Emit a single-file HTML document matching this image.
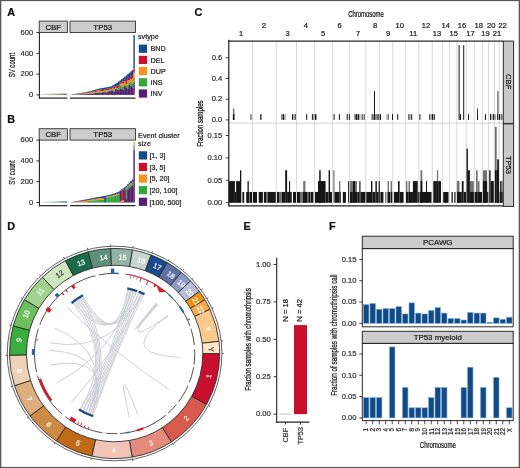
<!DOCTYPE html>
<html><head><meta charset="utf-8"><style>
html,body{margin:0;padding:0;background:#fff;}
svg{display:block;will-change:transform;filter:blur(0.3px);}
text{font-family:"Liberation Sans", sans-serif;stroke:currentColor;stroke-width:0.22px;}
</style></head><body>
<svg width="520" height="468" viewBox="0 0 520 468">
<rect x="0" y="0" width="520" height="468" fill="#fff"/>
<text x="7.20" y="15.60" font-size="10.8" text-anchor="start" fill="#111" color="#111" font-weight="bold">A</text>
<text x="7.30" y="122.60" font-size="10.8" text-anchor="start" fill="#111" color="#111" font-weight="bold">B</text>
<text x="194.50" y="15.70" font-size="10.8" text-anchor="start" fill="#111" color="#111" font-weight="bold">C</text>
<text x="7.30" y="230.30" font-size="10.8" text-anchor="start" fill="#111" color="#111" font-weight="bold">D</text>
<text x="243.40" y="230.30" font-size="10.8" text-anchor="start" fill="#111" color="#111" font-weight="bold">E</text>
<text x="328.90" y="230.30" font-size="10.8" text-anchor="start" fill="#111" color="#111" font-weight="bold">F</text>
<rect x="39.20" y="21.10" width="28.20" height="11.40" fill="#cccccc" stroke="#333" stroke-width="0.9"/>
<rect x="70.00" y="21.10" width="65.50" height="11.40" fill="#cccccc" stroke="#333" stroke-width="0.9"/>
<text x="53.30" y="29.60" font-size="7.9" text-anchor="middle" fill="#1a1a1a" color="#1a1a1a" font-weight="normal">CBF</text>
<text x="102.75" y="29.60" font-size="7.9" text-anchor="middle" fill="#1a1a1a" color="#1a1a1a" font-weight="normal">TP53</text>
<line x1="39.40" y1="32.50" x2="39.40" y2="98.60" stroke="#222" stroke-width="1.1"/>
<line x1="36.30" y1="94.90" x2="39.40" y2="94.90" stroke="#222" stroke-width="0.9"/>
<text x="33.20" y="97.10" font-size="7.6" text-anchor="end" fill="#333" color="#333" font-weight="normal">0</text>
<line x1="36.30" y1="74.10" x2="39.40" y2="74.10" stroke="#222" stroke-width="0.9"/>
<text x="33.20" y="76.30" font-size="7.6" text-anchor="end" fill="#333" color="#333" font-weight="normal">200</text>
<line x1="36.30" y1="53.30" x2="39.40" y2="53.30" stroke="#222" stroke-width="0.9"/>
<text x="33.20" y="55.50" font-size="7.6" text-anchor="end" fill="#333" color="#333" font-weight="normal">400</text>
<line x1="36.30" y1="32.50" x2="39.40" y2="32.50" stroke="#222" stroke-width="0.9"/>
<text x="33.20" y="34.70" font-size="7.6" text-anchor="end" fill="#333" color="#333" font-weight="normal">600</text>
<line x1="38.90" y1="98.10" x2="67.40" y2="98.10" stroke="#222" stroke-width="1.2"/>
<line x1="70.00" y1="98.10" x2="135.50" y2="98.10" stroke="#222" stroke-width="1.2"/>
<text x="14.60" y="65.10" font-size="8.9" text-anchor="middle" fill="#111" color="#111" font-weight="normal" transform="rotate(-90 14.60 65.10)" textLength="24.50" lengthAdjust="spacingAndGlyphs">SV count</text>
<defs><linearGradient id="cbfgA" x1="0" x2="1" y1="0" y2="0"><stop offset="0" stop-color="#e6e6e6"/><stop offset="0.5" stop-color="#b8b8a8"/><stop offset="1" stop-color="#6f7a62"/></linearGradient></defs>
<rect x="40.50" y="93.60" width="26.40" height="1.50" fill="url(#cbfgA)"/>
<rect x="70.60" y="94.80" width="1.78" height="0.10" fill="#532074"/>
<rect x="70.60" y="94.77" width="1.78" height="0.03" fill="#32a83a"/>
<rect x="70.60" y="94.68" width="1.78" height="0.09" fill="#f7931c"/>
<rect x="70.60" y="94.66" width="1.78" height="0.02" fill="#cb0f2e"/>
<rect x="70.60" y="94.56" width="1.78" height="0.10" fill="#134a89"/>
<rect x="72.13" y="94.69" width="1.78" height="0.21" fill="#532074"/>
<rect x="72.13" y="94.65" width="1.78" height="0.04" fill="#32a83a"/>
<rect x="72.13" y="94.51" width="1.78" height="0.14" fill="#f7931c"/>
<rect x="72.13" y="94.48" width="1.78" height="0.03" fill="#cb0f2e"/>
<rect x="72.13" y="94.29" width="1.78" height="0.19" fill="#134a89"/>
<rect x="73.66" y="94.67" width="1.78" height="0.23" fill="#532074"/>
<rect x="73.66" y="94.61" width="1.78" height="0.06" fill="#32a83a"/>
<rect x="73.66" y="94.45" width="1.78" height="0.16" fill="#f7931c"/>
<rect x="73.66" y="94.20" width="1.78" height="0.25" fill="#cb0f2e"/>
<rect x="73.66" y="94.02" width="1.78" height="0.18" fill="#134a89"/>
<rect x="75.19" y="94.65" width="1.78" height="0.25" fill="#532074"/>
<rect x="75.19" y="94.44" width="1.78" height="0.21" fill="#32a83a"/>
<rect x="75.19" y="94.14" width="1.78" height="0.31" fill="#f7931c"/>
<rect x="75.19" y="93.97" width="1.78" height="0.17" fill="#cb0f2e"/>
<rect x="75.19" y="93.74" width="1.78" height="0.22" fill="#134a89"/>
<rect x="76.72" y="94.36" width="1.78" height="0.54" fill="#532074"/>
<rect x="76.72" y="94.30" width="1.78" height="0.06" fill="#32a83a"/>
<rect x="76.72" y="93.88" width="1.78" height="0.42" fill="#f7931c"/>
<rect x="76.72" y="93.73" width="1.78" height="0.15" fill="#cb0f2e"/>
<rect x="76.72" y="93.47" width="1.78" height="0.26" fill="#134a89"/>
<rect x="78.25" y="94.47" width="1.78" height="0.43" fill="#532074"/>
<rect x="78.25" y="94.26" width="1.78" height="0.21" fill="#32a83a"/>
<rect x="78.25" y="93.79" width="1.78" height="0.47" fill="#f7931c"/>
<rect x="78.25" y="93.66" width="1.78" height="0.13" fill="#cb0f2e"/>
<rect x="78.25" y="93.20" width="1.78" height="0.46" fill="#134a89"/>
<rect x="79.78" y="94.17" width="1.78" height="0.73" fill="#532074"/>
<rect x="79.78" y="93.85" width="1.78" height="0.31" fill="#32a83a"/>
<rect x="79.78" y="93.42" width="1.78" height="0.43" fill="#f7931c"/>
<rect x="79.78" y="93.32" width="1.78" height="0.10" fill="#cb0f2e"/>
<rect x="79.78" y="92.97" width="1.78" height="0.36" fill="#134a89"/>
<rect x="81.30" y="94.33" width="1.78" height="0.57" fill="#532074"/>
<rect x="81.30" y="93.84" width="1.78" height="0.49" fill="#32a83a"/>
<rect x="81.30" y="93.51" width="1.78" height="0.33" fill="#f7931c"/>
<rect x="81.30" y="93.29" width="1.78" height="0.23" fill="#cb0f2e"/>
<rect x="81.30" y="92.73" width="1.78" height="0.55" fill="#134a89"/>
<rect x="82.83" y="94.21" width="1.78" height="0.69" fill="#532074"/>
<rect x="82.83" y="93.95" width="1.78" height="0.26" fill="#32a83a"/>
<rect x="82.83" y="93.37" width="1.78" height="0.58" fill="#f7931c"/>
<rect x="82.83" y="92.93" width="1.78" height="0.44" fill="#cb0f2e"/>
<rect x="82.83" y="92.50" width="1.78" height="0.43" fill="#134a89"/>
<rect x="84.36" y="94.18" width="1.78" height="0.72" fill="#532074"/>
<rect x="84.36" y="93.78" width="1.78" height="0.40" fill="#32a83a"/>
<rect x="84.36" y="93.16" width="1.78" height="0.62" fill="#f7931c"/>
<rect x="84.36" y="92.71" width="1.78" height="0.45" fill="#cb0f2e"/>
<rect x="84.36" y="92.27" width="1.78" height="0.44" fill="#134a89"/>
<rect x="85.89" y="93.72" width="1.78" height="1.18" fill="#532074"/>
<rect x="85.89" y="93.54" width="1.78" height="0.19" fill="#32a83a"/>
<rect x="85.89" y="93.09" width="1.78" height="0.45" fill="#f7931c"/>
<rect x="85.89" y="92.46" width="1.78" height="0.63" fill="#cb0f2e"/>
<rect x="85.89" y="91.94" width="1.78" height="0.52" fill="#134a89"/>
<rect x="87.42" y="93.86" width="1.78" height="1.04" fill="#532074"/>
<rect x="87.42" y="93.74" width="1.78" height="0.13" fill="#32a83a"/>
<rect x="87.42" y="93.04" width="1.78" height="0.70" fill="#f7931c"/>
<rect x="87.42" y="92.37" width="1.78" height="0.67" fill="#cb0f2e"/>
<rect x="87.42" y="91.56" width="1.78" height="0.80" fill="#134a89"/>
<rect x="88.95" y="93.66" width="1.78" height="1.24" fill="#532074"/>
<rect x="88.95" y="93.28" width="1.78" height="0.38" fill="#32a83a"/>
<rect x="88.95" y="92.55" width="1.78" height="0.73" fill="#f7931c"/>
<rect x="88.95" y="92.00" width="1.78" height="0.55" fill="#cb0f2e"/>
<rect x="88.95" y="91.19" width="1.78" height="0.81" fill="#134a89"/>
<rect x="90.48" y="93.86" width="1.78" height="1.04" fill="#532074"/>
<rect x="90.48" y="93.02" width="1.78" height="0.84" fill="#32a83a"/>
<rect x="90.48" y="92.09" width="1.78" height="0.93" fill="#f7931c"/>
<rect x="90.48" y="91.65" width="1.78" height="0.44" fill="#cb0f2e"/>
<rect x="90.48" y="90.81" width="1.78" height="0.84" fill="#134a89"/>
<rect x="92.01" y="93.92" width="1.78" height="0.98" fill="#532074"/>
<rect x="92.01" y="93.12" width="1.78" height="0.80" fill="#32a83a"/>
<rect x="92.01" y="92.37" width="1.78" height="0.74" fill="#f7931c"/>
<rect x="92.01" y="91.45" width="1.78" height="0.92" fill="#cb0f2e"/>
<rect x="92.01" y="90.41" width="1.78" height="1.04" fill="#134a89"/>
<rect x="93.54" y="93.22" width="1.78" height="1.68" fill="#532074"/>
<rect x="93.54" y="92.50" width="1.78" height="0.73" fill="#32a83a"/>
<rect x="93.54" y="91.35" width="1.78" height="1.15" fill="#f7931c"/>
<rect x="93.54" y="91.17" width="1.78" height="0.18" fill="#cb0f2e"/>
<rect x="93.54" y="89.97" width="1.78" height="1.21" fill="#134a89"/>
<rect x="95.07" y="92.81" width="1.78" height="2.09" fill="#532074"/>
<rect x="95.07" y="92.39" width="1.78" height="0.42" fill="#32a83a"/>
<rect x="95.07" y="92.08" width="1.78" height="0.31" fill="#f7931c"/>
<rect x="95.07" y="90.66" width="1.78" height="1.43" fill="#cb0f2e"/>
<rect x="95.07" y="89.53" width="1.78" height="1.13" fill="#134a89"/>
<rect x="96.60" y="93.04" width="1.78" height="1.86" fill="#532074"/>
<rect x="96.60" y="92.24" width="1.78" height="0.80" fill="#32a83a"/>
<rect x="96.60" y="90.66" width="1.78" height="1.58" fill="#f7931c"/>
<rect x="96.60" y="90.39" width="1.78" height="0.27" fill="#cb0f2e"/>
<rect x="96.60" y="89.09" width="1.78" height="1.30" fill="#134a89"/>
<rect x="98.13" y="93.16" width="1.78" height="1.74" fill="#532074"/>
<rect x="98.13" y="91.87" width="1.78" height="1.30" fill="#32a83a"/>
<rect x="98.13" y="90.65" width="1.78" height="1.21" fill="#f7931c"/>
<rect x="98.13" y="89.57" width="1.78" height="1.08" fill="#cb0f2e"/>
<rect x="98.13" y="88.67" width="1.78" height="0.90" fill="#134a89"/>
<rect x="99.66" y="92.94" width="1.78" height="1.96" fill="#532074"/>
<rect x="99.66" y="92.23" width="1.78" height="0.71" fill="#32a83a"/>
<rect x="99.66" y="90.71" width="1.78" height="1.52" fill="#f7931c"/>
<rect x="99.66" y="89.33" width="1.78" height="1.39" fill="#cb0f2e"/>
<rect x="99.66" y="88.40" width="1.78" height="0.93" fill="#134a89"/>
<rect x="101.19" y="92.45" width="1.78" height="2.45" fill="#532074"/>
<rect x="101.19" y="91.75" width="1.78" height="0.69" fill="#32a83a"/>
<rect x="101.19" y="91.06" width="1.78" height="0.70" fill="#f7931c"/>
<rect x="101.19" y="90.00" width="1.78" height="1.06" fill="#cb0f2e"/>
<rect x="101.19" y="88.13" width="1.78" height="1.87" fill="#134a89"/>
<rect x="102.71" y="92.14" width="1.78" height="2.76" fill="#532074"/>
<rect x="102.71" y="91.90" width="1.78" height="0.23" fill="#32a83a"/>
<rect x="102.71" y="90.74" width="1.78" height="1.16" fill="#f7931c"/>
<rect x="102.71" y="89.83" width="1.78" height="0.91" fill="#cb0f2e"/>
<rect x="102.71" y="87.87" width="1.78" height="1.96" fill="#134a89"/>
<rect x="104.24" y="92.34" width="1.78" height="2.56" fill="#532074"/>
<rect x="104.24" y="91.08" width="1.78" height="1.26" fill="#32a83a"/>
<rect x="104.24" y="90.10" width="1.78" height="0.98" fill="#f7931c"/>
<rect x="104.24" y="89.12" width="1.78" height="0.98" fill="#cb0f2e"/>
<rect x="104.24" y="87.60" width="1.78" height="1.52" fill="#134a89"/>
<rect x="105.77" y="93.09" width="1.78" height="1.81" fill="#532074"/>
<rect x="105.77" y="91.54" width="1.78" height="1.55" fill="#32a83a"/>
<rect x="105.77" y="90.18" width="1.78" height="1.36" fill="#f7931c"/>
<rect x="105.77" y="88.90" width="1.78" height="1.28" fill="#cb0f2e"/>
<rect x="105.77" y="87.30" width="1.78" height="1.60" fill="#134a89"/>
<rect x="107.30" y="91.57" width="1.78" height="3.33" fill="#532074"/>
<rect x="107.30" y="90.36" width="1.78" height="1.22" fill="#32a83a"/>
<rect x="107.30" y="89.86" width="1.78" height="0.50" fill="#f7931c"/>
<rect x="107.30" y="88.33" width="1.78" height="1.53" fill="#cb0f2e"/>
<rect x="107.30" y="87.01" width="1.78" height="1.32" fill="#134a89"/>
<rect x="108.83" y="91.21" width="1.78" height="3.69" fill="#532074"/>
<rect x="108.83" y="90.28" width="1.78" height="0.93" fill="#32a83a"/>
<rect x="108.83" y="89.49" width="1.78" height="0.79" fill="#f7931c"/>
<rect x="108.83" y="88.33" width="1.78" height="1.16" fill="#cb0f2e"/>
<rect x="108.83" y="86.71" width="1.78" height="1.62" fill="#134a89"/>
<rect x="110.36" y="90.93" width="1.78" height="3.97" fill="#532074"/>
<rect x="110.36" y="90.10" width="1.78" height="0.83" fill="#32a83a"/>
<rect x="110.36" y="89.44" width="1.78" height="0.66" fill="#f7931c"/>
<rect x="110.36" y="88.11" width="1.78" height="1.32" fill="#cb0f2e"/>
<rect x="110.36" y="86.41" width="1.78" height="1.70" fill="#134a89"/>
<rect x="111.89" y="90.63" width="1.78" height="4.27" fill="#532074"/>
<rect x="111.89" y="88.80" width="1.78" height="1.83" fill="#32a83a"/>
<rect x="111.89" y="88.16" width="1.78" height="0.64" fill="#f7931c"/>
<rect x="111.89" y="87.37" width="1.78" height="0.80" fill="#cb0f2e"/>
<rect x="111.89" y="85.49" width="1.78" height="1.88" fill="#134a89"/>
<rect x="113.42" y="91.48" width="1.78" height="3.42" fill="#532074"/>
<rect x="113.42" y="90.95" width="1.78" height="0.53" fill="#32a83a"/>
<rect x="113.42" y="88.68" width="1.78" height="2.27" fill="#f7931c"/>
<rect x="113.42" y="86.47" width="1.78" height="2.21" fill="#cb0f2e"/>
<rect x="113.42" y="84.53" width="1.78" height="1.94" fill="#134a89"/>
<rect x="114.95" y="89.12" width="1.78" height="5.78" fill="#532074"/>
<rect x="114.95" y="88.41" width="1.78" height="0.71" fill="#32a83a"/>
<rect x="114.95" y="87.64" width="1.78" height="0.77" fill="#f7931c"/>
<rect x="114.95" y="86.16" width="1.78" height="1.47" fill="#cb0f2e"/>
<rect x="114.95" y="83.58" width="1.78" height="2.58" fill="#134a89"/>
<rect x="116.48" y="89.44" width="1.78" height="5.46" fill="#532074"/>
<rect x="116.48" y="88.60" width="1.78" height="0.84" fill="#32a83a"/>
<rect x="116.48" y="88.21" width="1.78" height="0.39" fill="#f7931c"/>
<rect x="116.48" y="85.35" width="1.78" height="2.86" fill="#cb0f2e"/>
<rect x="116.48" y="82.62" width="1.78" height="2.73" fill="#134a89"/>
<rect x="118.01" y="90.08" width="1.78" height="4.82" fill="#532074"/>
<rect x="118.01" y="87.84" width="1.78" height="2.24" fill="#32a83a"/>
<rect x="118.01" y="87.40" width="1.78" height="0.44" fill="#f7931c"/>
<rect x="118.01" y="85.52" width="1.78" height="1.88" fill="#cb0f2e"/>
<rect x="118.01" y="81.52" width="1.78" height="4.01" fill="#134a89"/>
<rect x="119.54" y="88.39" width="1.78" height="6.51" fill="#532074"/>
<rect x="119.54" y="85.45" width="1.78" height="2.94" fill="#32a83a"/>
<rect x="119.54" y="84.11" width="1.78" height="1.33" fill="#f7931c"/>
<rect x="119.54" y="82.62" width="1.78" height="1.50" fill="#cb0f2e"/>
<rect x="119.54" y="80.36" width="1.78" height="2.26" fill="#134a89"/>
<rect x="121.07" y="88.51" width="1.78" height="6.39" fill="#532074"/>
<rect x="121.07" y="86.19" width="1.78" height="2.32" fill="#32a83a"/>
<rect x="121.07" y="82.96" width="1.78" height="3.23" fill="#f7931c"/>
<rect x="121.07" y="81.59" width="1.78" height="1.38" fill="#cb0f2e"/>
<rect x="121.07" y="79.21" width="1.78" height="2.38" fill="#134a89"/>
<rect x="122.60" y="89.55" width="1.78" height="5.35" fill="#532074"/>
<rect x="122.60" y="86.30" width="1.78" height="3.26" fill="#32a83a"/>
<rect x="122.60" y="83.44" width="1.78" height="2.86" fill="#f7931c"/>
<rect x="122.60" y="81.12" width="1.78" height="2.32" fill="#cb0f2e"/>
<rect x="122.60" y="77.98" width="1.78" height="3.14" fill="#134a89"/>
<rect x="124.12" y="86.04" width="1.78" height="8.86" fill="#532074"/>
<rect x="124.12" y="84.40" width="1.78" height="1.64" fill="#32a83a"/>
<rect x="124.12" y="81.30" width="1.78" height="3.10" fill="#f7931c"/>
<rect x="124.12" y="79.31" width="1.78" height="1.99" fill="#cb0f2e"/>
<rect x="124.12" y="76.71" width="1.78" height="2.61" fill="#134a89"/>
<rect x="125.65" y="87.91" width="1.78" height="6.99" fill="#532074"/>
<rect x="125.65" y="86.06" width="1.78" height="1.85" fill="#32a83a"/>
<rect x="125.65" y="84.30" width="1.78" height="1.75" fill="#f7931c"/>
<rect x="125.65" y="80.99" width="1.78" height="3.31" fill="#cb0f2e"/>
<rect x="125.65" y="75.43" width="1.78" height="5.56" fill="#134a89"/>
<rect x="127.18" y="88.54" width="1.78" height="6.36" fill="#532074"/>
<rect x="127.18" y="84.57" width="1.78" height="3.97" fill="#32a83a"/>
<rect x="127.18" y="80.41" width="1.78" height="4.16" fill="#f7931c"/>
<rect x="127.18" y="76.98" width="1.78" height="3.43" fill="#cb0f2e"/>
<rect x="127.18" y="74.13" width="1.78" height="2.84" fill="#134a89"/>
<rect x="128.71" y="84.64" width="1.78" height="10.26" fill="#532074"/>
<rect x="128.71" y="82.50" width="1.78" height="2.14" fill="#32a83a"/>
<rect x="128.71" y="80.56" width="1.78" height="1.94" fill="#f7931c"/>
<rect x="128.71" y="78.79" width="1.78" height="1.77" fill="#cb0f2e"/>
<rect x="128.71" y="72.80" width="1.78" height="5.99" fill="#134a89"/>
<rect x="130.24" y="86.07" width="1.78" height="8.83" fill="#532074"/>
<rect x="130.24" y="81.77" width="1.78" height="4.30" fill="#32a83a"/>
<rect x="130.24" y="79.12" width="1.78" height="2.65" fill="#f7931c"/>
<rect x="130.24" y="76.17" width="1.78" height="2.95" fill="#cb0f2e"/>
<rect x="130.24" y="71.45" width="1.78" height="4.73" fill="#134a89"/>
<rect x="131.77" y="87.34" width="1.78" height="7.56" fill="#532074"/>
<rect x="131.77" y="83.62" width="1.78" height="3.73" fill="#32a83a"/>
<rect x="131.77" y="78.67" width="1.78" height="4.95" fill="#f7931c"/>
<rect x="131.77" y="74.98" width="1.78" height="3.68" fill="#cb0f2e"/>
<rect x="131.77" y="70.08" width="1.78" height="4.90" fill="#134a89"/>
<rect x="133.40" y="82.42" width="1.40" height="12.48" fill="#532074"/>
<rect x="133.40" y="78.26" width="1.40" height="4.16" fill="#32a83a"/>
<rect x="133.40" y="72.54" width="1.40" height="5.72" fill="#f7931c"/>
<rect x="133.40" y="68.38" width="1.40" height="4.16" fill="#cb0f2e"/>
<rect x="133.40" y="35.10" width="1.40" height="33.28" fill="#1a4680"/>
<rect x="138.80" y="44.60" width="8.30" height="8.20" fill="#134a89"/>
<text x="150.50" y="51.40" font-size="7.2" text-anchor="start" fill="#222" color="#222" font-weight="normal">BND</text>
<rect x="138.80" y="55.80" width="8.30" height="8.20" fill="#cb0f2e"/>
<text x="150.50" y="62.60" font-size="7.2" text-anchor="start" fill="#222" color="#222" font-weight="normal">DEL</text>
<rect x="138.80" y="67.00" width="8.30" height="8.20" fill="#f7931c"/>
<text x="150.50" y="73.80" font-size="7.2" text-anchor="start" fill="#222" color="#222" font-weight="normal">DUP</text>
<rect x="138.80" y="78.20" width="8.30" height="8.20" fill="#32a83a"/>
<text x="150.50" y="85.00" font-size="7.2" text-anchor="start" fill="#222" color="#222" font-weight="normal">INS</text>
<rect x="138.80" y="89.40" width="8.30" height="8.20" fill="#532074"/>
<text x="150.50" y="96.20" font-size="7.2" text-anchor="start" fill="#222" color="#222" font-weight="normal">INV</text>
<text x="138.00" y="38.90" font-size="7.2" text-anchor="start" fill="#222" color="#222" font-weight="normal">svtype</text>
<rect x="39.20" y="128.70" width="28.20" height="11.40" fill="#cccccc" stroke="#333" stroke-width="0.9"/>
<rect x="70.00" y="128.70" width="65.50" height="11.40" fill="#cccccc" stroke="#333" stroke-width="0.9"/>
<text x="53.30" y="137.20" font-size="7.9" text-anchor="middle" fill="#1a1a1a" color="#1a1a1a" font-weight="normal">CBF</text>
<text x="102.75" y="137.20" font-size="7.9" text-anchor="middle" fill="#1a1a1a" color="#1a1a1a" font-weight="normal">TP53</text>
<line x1="39.40" y1="140.10" x2="39.40" y2="206.20" stroke="#222" stroke-width="1.1"/>
<line x1="36.30" y1="202.50" x2="39.40" y2="202.50" stroke="#222" stroke-width="0.9"/>
<text x="33.20" y="204.70" font-size="7.6" text-anchor="end" fill="#333" color="#333" font-weight="normal">0</text>
<line x1="36.30" y1="181.70" x2="39.40" y2="181.70" stroke="#222" stroke-width="0.9"/>
<text x="33.20" y="183.90" font-size="7.6" text-anchor="end" fill="#333" color="#333" font-weight="normal">200</text>
<line x1="36.30" y1="160.90" x2="39.40" y2="160.90" stroke="#222" stroke-width="0.9"/>
<text x="33.20" y="163.10" font-size="7.6" text-anchor="end" fill="#333" color="#333" font-weight="normal">400</text>
<line x1="36.30" y1="140.10" x2="39.40" y2="140.10" stroke="#222" stroke-width="0.9"/>
<text x="33.20" y="142.30" font-size="7.6" text-anchor="end" fill="#333" color="#333" font-weight="normal">600</text>
<line x1="38.90" y1="205.70" x2="67.40" y2="205.70" stroke="#222" stroke-width="1.2"/>
<line x1="70.00" y1="205.70" x2="135.50" y2="205.70" stroke="#222" stroke-width="1.2"/>
<text x="14.60" y="172.60" font-size="8.9" text-anchor="middle" fill="#111" color="#111" font-weight="normal" transform="rotate(-90 14.60 172.60)" textLength="24.50" lengthAdjust="spacingAndGlyphs">SV count</text>
<defs><linearGradient id="cbfgB" x1="0" x2="1" y1="0" y2="0"><stop offset="0" stop-color="#d8e0ea"/><stop offset="0.6" stop-color="#a4b8d2"/><stop offset="1" stop-color="#6a8cb8"/></linearGradient></defs>
<path d="M40.5,202.70 L40.5,201.90 L66.9,201.10 L66.9,202.70 Z" fill="url(#cbfgB)"/>
<rect x="70.60" y="202.48" width="1.78" height="0.02" fill="#532074"/>
<rect x="70.60" y="202.45" width="1.78" height="0.03" fill="#32a83a"/>
<rect x="70.60" y="202.28" width="1.78" height="0.16" fill="#f7931c"/>
<rect x="70.60" y="202.20" width="1.78" height="0.09" fill="#cb0f2e"/>
<rect x="70.60" y="202.06" width="1.78" height="0.13" fill="#134a89"/>
<rect x="72.13" y="202.47" width="1.78" height="0.03" fill="#532074"/>
<rect x="72.13" y="202.42" width="1.78" height="0.05" fill="#32a83a"/>
<rect x="72.13" y="202.13" width="1.78" height="0.29" fill="#f7931c"/>
<rect x="72.13" y="202.00" width="1.78" height="0.13" fill="#cb0f2e"/>
<rect x="72.13" y="201.79" width="1.78" height="0.21" fill="#134a89"/>
<rect x="73.66" y="202.45" width="1.78" height="0.05" fill="#532074"/>
<rect x="73.66" y="202.38" width="1.78" height="0.07" fill="#32a83a"/>
<rect x="73.66" y="202.01" width="1.78" height="0.37" fill="#f7931c"/>
<rect x="73.66" y="201.81" width="1.78" height="0.19" fill="#cb0f2e"/>
<rect x="73.66" y="201.52" width="1.78" height="0.30" fill="#134a89"/>
<rect x="75.19" y="202.44" width="1.78" height="0.06" fill="#532074"/>
<rect x="75.19" y="202.34" width="1.78" height="0.10" fill="#32a83a"/>
<rect x="75.19" y="201.89" width="1.78" height="0.45" fill="#f7931c"/>
<rect x="75.19" y="201.64" width="1.78" height="0.25" fill="#cb0f2e"/>
<rect x="75.19" y="201.24" width="1.78" height="0.39" fill="#134a89"/>
<rect x="76.72" y="202.43" width="1.78" height="0.07" fill="#532074"/>
<rect x="76.72" y="202.32" width="1.78" height="0.11" fill="#32a83a"/>
<rect x="76.72" y="201.74" width="1.78" height="0.58" fill="#f7931c"/>
<rect x="76.72" y="201.42" width="1.78" height="0.32" fill="#cb0f2e"/>
<rect x="76.72" y="200.97" width="1.78" height="0.45" fill="#134a89"/>
<rect x="78.25" y="202.41" width="1.78" height="0.09" fill="#532074"/>
<rect x="78.25" y="202.26" width="1.78" height="0.15" fill="#32a83a"/>
<rect x="78.25" y="201.61" width="1.78" height="0.65" fill="#f7931c"/>
<rect x="78.25" y="201.28" width="1.78" height="0.33" fill="#cb0f2e"/>
<rect x="78.25" y="200.70" width="1.78" height="0.58" fill="#134a89"/>
<rect x="79.78" y="202.40" width="1.78" height="0.10" fill="#532074"/>
<rect x="79.78" y="202.24" width="1.78" height="0.16" fill="#32a83a"/>
<rect x="79.78" y="201.52" width="1.78" height="0.72" fill="#f7931c"/>
<rect x="79.78" y="201.06" width="1.78" height="0.46" fill="#cb0f2e"/>
<rect x="79.78" y="200.42" width="1.78" height="0.64" fill="#134a89"/>
<rect x="81.30" y="202.38" width="1.78" height="0.12" fill="#532074"/>
<rect x="81.30" y="202.20" width="1.78" height="0.18" fill="#32a83a"/>
<rect x="81.30" y="201.23" width="1.78" height="0.97" fill="#f7931c"/>
<rect x="81.30" y="200.88" width="1.78" height="0.36" fill="#cb0f2e"/>
<rect x="81.30" y="200.14" width="1.78" height="0.74" fill="#134a89"/>
<rect x="82.83" y="202.38" width="1.78" height="0.12" fill="#532074"/>
<rect x="82.83" y="202.20" width="1.78" height="0.18" fill="#32a83a"/>
<rect x="82.83" y="201.17" width="1.78" height="1.03" fill="#f7931c"/>
<rect x="82.83" y="200.60" width="1.78" height="0.57" fill="#cb0f2e"/>
<rect x="82.83" y="199.86" width="1.78" height="0.74" fill="#134a89"/>
<rect x="84.36" y="202.36" width="1.78" height="0.14" fill="#532074"/>
<rect x="84.36" y="202.15" width="1.78" height="0.22" fill="#32a83a"/>
<rect x="84.36" y="201.02" width="1.78" height="1.12" fill="#f7931c"/>
<rect x="84.36" y="200.45" width="1.78" height="0.57" fill="#cb0f2e"/>
<rect x="84.36" y="199.59" width="1.78" height="0.87" fill="#134a89"/>
<rect x="85.89" y="202.33" width="1.78" height="0.17" fill="#532074"/>
<rect x="85.89" y="202.07" width="1.78" height="0.26" fill="#32a83a"/>
<rect x="85.89" y="200.86" width="1.78" height="1.21" fill="#f7931c"/>
<rect x="85.89" y="200.36" width="1.78" height="0.50" fill="#cb0f2e"/>
<rect x="85.89" y="199.30" width="1.78" height="1.06" fill="#134a89"/>
<rect x="87.42" y="202.40" width="1.78" height="0.10" fill="#532074"/>
<rect x="87.42" y="200.82" width="1.78" height="1.58" fill="#32a83a"/>
<rect x="87.42" y="200.10" width="1.78" height="0.72" fill="#f7931c"/>
<rect x="87.42" y="199.99" width="1.78" height="0.10" fill="#cb0f2e"/>
<rect x="87.42" y="199.02" width="1.78" height="0.97" fill="#134a89"/>
<rect x="88.95" y="202.38" width="1.78" height="0.12" fill="#532074"/>
<rect x="88.95" y="200.87" width="1.78" height="1.51" fill="#32a83a"/>
<rect x="88.95" y="199.95" width="1.78" height="0.92" fill="#f7931c"/>
<rect x="88.95" y="199.83" width="1.78" height="0.12" fill="#cb0f2e"/>
<rect x="88.95" y="198.74" width="1.78" height="1.09" fill="#134a89"/>
<rect x="90.48" y="202.37" width="1.78" height="0.13" fill="#532074"/>
<rect x="90.48" y="200.88" width="1.78" height="1.49" fill="#32a83a"/>
<rect x="90.48" y="199.76" width="1.78" height="1.13" fill="#f7931c"/>
<rect x="90.48" y="199.63" width="1.78" height="0.13" fill="#cb0f2e"/>
<rect x="90.48" y="198.46" width="1.78" height="1.17" fill="#134a89"/>
<rect x="92.01" y="202.38" width="1.78" height="0.12" fill="#532074"/>
<rect x="92.01" y="200.65" width="1.78" height="1.73" fill="#32a83a"/>
<rect x="92.01" y="199.36" width="1.78" height="1.29" fill="#f7931c"/>
<rect x="92.01" y="199.24" width="1.78" height="0.12" fill="#cb0f2e"/>
<rect x="92.01" y="198.14" width="1.78" height="1.11" fill="#134a89"/>
<rect x="93.54" y="202.37" width="1.78" height="0.13" fill="#532074"/>
<rect x="93.54" y="200.40" width="1.78" height="1.97" fill="#32a83a"/>
<rect x="93.54" y="199.11" width="1.78" height="1.29" fill="#f7931c"/>
<rect x="93.54" y="198.98" width="1.78" height="0.13" fill="#cb0f2e"/>
<rect x="93.54" y="197.77" width="1.78" height="1.22" fill="#134a89"/>
<rect x="95.07" y="202.36" width="1.78" height="0.14" fill="#532074"/>
<rect x="95.07" y="200.28" width="1.78" height="2.08" fill="#32a83a"/>
<rect x="95.07" y="198.89" width="1.78" height="1.39" fill="#f7931c"/>
<rect x="95.07" y="198.75" width="1.78" height="0.14" fill="#cb0f2e"/>
<rect x="95.07" y="197.46" width="1.78" height="1.30" fill="#134a89"/>
<rect x="96.60" y="202.34" width="1.78" height="0.16" fill="#532074"/>
<rect x="96.60" y="200.06" width="1.78" height="2.29" fill="#32a83a"/>
<rect x="96.60" y="198.80" width="1.78" height="1.25" fill="#f7931c"/>
<rect x="96.60" y="198.65" width="1.78" height="0.16" fill="#cb0f2e"/>
<rect x="96.60" y="197.20" width="1.78" height="1.45" fill="#134a89"/>
<rect x="98.13" y="202.37" width="1.78" height="0.13" fill="#532074"/>
<rect x="98.13" y="199.90" width="1.78" height="2.47" fill="#32a83a"/>
<rect x="98.13" y="198.33" width="1.78" height="1.57" fill="#f7931c"/>
<rect x="98.13" y="198.20" width="1.78" height="0.13" fill="#cb0f2e"/>
<rect x="98.13" y="196.94" width="1.78" height="1.26" fill="#134a89"/>
<rect x="99.66" y="202.35" width="1.78" height="0.15" fill="#532074"/>
<rect x="99.66" y="199.76" width="1.78" height="2.59" fill="#32a83a"/>
<rect x="99.66" y="198.23" width="1.78" height="1.53" fill="#f7931c"/>
<rect x="99.66" y="198.08" width="1.78" height="0.15" fill="#cb0f2e"/>
<rect x="99.66" y="196.68" width="1.78" height="1.40" fill="#134a89"/>
<rect x="101.19" y="202.32" width="1.78" height="0.18" fill="#532074"/>
<rect x="101.19" y="199.77" width="1.78" height="2.54" fill="#32a83a"/>
<rect x="101.19" y="198.33" width="1.78" height="1.44" fill="#f7931c"/>
<rect x="101.19" y="198.14" width="1.78" height="0.18" fill="#cb0f2e"/>
<rect x="101.19" y="196.42" width="1.78" height="1.72" fill="#134a89"/>
<rect x="102.71" y="202.30" width="1.78" height="0.20" fill="#532074"/>
<rect x="102.71" y="199.60" width="1.78" height="2.70" fill="#32a83a"/>
<rect x="102.71" y="198.21" width="1.78" height="1.39" fill="#f7931c"/>
<rect x="102.71" y="198.01" width="1.78" height="0.20" fill="#cb0f2e"/>
<rect x="102.71" y="196.16" width="1.78" height="1.85" fill="#134a89"/>
<rect x="104.24" y="195.90" width="1.78" height="6.60" fill="#134a89"/>
<rect x="105.77" y="202.29" width="1.78" height="0.21" fill="#532074"/>
<rect x="105.77" y="197.47" width="1.78" height="4.82" fill="#32a83a"/>
<rect x="105.77" y="196.71" width="1.78" height="0.76" fill="#f7931c"/>
<rect x="105.77" y="196.57" width="1.78" height="0.14" fill="#cb0f2e"/>
<rect x="105.77" y="195.53" width="1.78" height="1.04" fill="#134a89"/>
<rect x="107.30" y="202.28" width="1.78" height="0.22" fill="#532074"/>
<rect x="107.30" y="197.17" width="1.78" height="5.11" fill="#32a83a"/>
<rect x="107.30" y="196.39" width="1.78" height="0.78" fill="#f7931c"/>
<rect x="107.30" y="196.25" width="1.78" height="0.15" fill="#cb0f2e"/>
<rect x="107.30" y="195.16" width="1.78" height="1.09" fill="#134a89"/>
<rect x="108.83" y="202.29" width="1.78" height="0.21" fill="#532074"/>
<rect x="108.83" y="197.24" width="1.78" height="5.05" fill="#32a83a"/>
<rect x="108.83" y="195.99" width="1.78" height="1.25" fill="#f7931c"/>
<rect x="108.83" y="195.85" width="1.78" height="0.14" fill="#cb0f2e"/>
<rect x="108.83" y="194.79" width="1.78" height="1.06" fill="#134a89"/>
<rect x="110.36" y="202.23" width="1.78" height="0.27" fill="#532074"/>
<rect x="110.36" y="196.67" width="1.78" height="5.56" fill="#32a83a"/>
<rect x="110.36" y="195.94" width="1.78" height="0.73" fill="#f7931c"/>
<rect x="110.36" y="195.76" width="1.78" height="0.18" fill="#cb0f2e"/>
<rect x="110.36" y="194.42" width="1.78" height="1.34" fill="#134a89"/>
<rect x="111.89" y="202.25" width="1.78" height="0.25" fill="#532074"/>
<rect x="111.89" y="196.33" width="1.78" height="5.92" fill="#32a83a"/>
<rect x="111.89" y="195.33" width="1.78" height="1.00" fill="#f7931c"/>
<rect x="111.89" y="195.16" width="1.78" height="0.17" fill="#cb0f2e"/>
<rect x="111.89" y="193.92" width="1.78" height="1.25" fill="#134a89"/>
<rect x="113.42" y="202.23" width="1.78" height="0.27" fill="#532074"/>
<rect x="113.42" y="195.88" width="1.78" height="6.35" fill="#32a83a"/>
<rect x="113.42" y="194.91" width="1.78" height="0.97" fill="#f7931c"/>
<rect x="113.42" y="194.73" width="1.78" height="0.18" fill="#cb0f2e"/>
<rect x="113.42" y="193.41" width="1.78" height="1.33" fill="#134a89"/>
<rect x="114.95" y="202.20" width="1.78" height="0.30" fill="#532074"/>
<rect x="114.95" y="196.00" width="1.78" height="6.20" fill="#32a83a"/>
<rect x="114.95" y="194.58" width="1.78" height="1.43" fill="#f7931c"/>
<rect x="114.95" y="194.38" width="1.78" height="0.20" fill="#cb0f2e"/>
<rect x="114.95" y="192.90" width="1.78" height="1.48" fill="#134a89"/>
<rect x="116.48" y="202.19" width="1.78" height="0.31" fill="#532074"/>
<rect x="116.48" y="195.05" width="1.78" height="7.14" fill="#32a83a"/>
<rect x="116.48" y="194.13" width="1.78" height="0.93" fill="#f7931c"/>
<rect x="116.48" y="193.92" width="1.78" height="0.20" fill="#cb0f2e"/>
<rect x="116.48" y="192.39" width="1.78" height="1.54" fill="#134a89"/>
<rect x="118.01" y="202.15" width="1.78" height="0.35" fill="#532074"/>
<rect x="118.01" y="194.85" width="1.78" height="7.31" fill="#32a83a"/>
<rect x="118.01" y="193.69" width="1.78" height="1.16" fill="#f7931c"/>
<rect x="118.01" y="193.45" width="1.78" height="0.23" fill="#cb0f2e"/>
<rect x="118.01" y="191.71" width="1.78" height="1.74" fill="#134a89"/>
<rect x="119.54" y="201.30" width="1.78" height="1.20" fill="#32a83a"/>
<rect x="119.54" y="190.52" width="1.78" height="10.79" fill="#134a89"/>
<rect x="121.07" y="201.84" width="1.78" height="0.66" fill="#532074"/>
<rect x="121.07" y="200.52" width="1.78" height="1.32" fill="#f7931c"/>
<rect x="121.07" y="190.64" width="1.78" height="9.88" fill="#cb0f2e"/>
<rect x="121.07" y="189.32" width="1.78" height="1.32" fill="#134a89"/>
<rect x="122.60" y="201.79" width="1.78" height="0.71" fill="#532074"/>
<rect x="122.60" y="200.36" width="1.78" height="1.43" fill="#f7931c"/>
<rect x="122.60" y="189.66" width="1.78" height="10.70" fill="#cb0f2e"/>
<rect x="122.60" y="188.24" width="1.78" height="1.43" fill="#134a89"/>
<rect x="124.12" y="189.52" width="1.78" height="12.98" fill="#532074"/>
<rect x="124.12" y="187.23" width="1.78" height="2.29" fill="#134a89"/>
<rect x="125.65" y="199.18" width="1.78" height="3.32" fill="#532074"/>
<rect x="125.65" y="188.38" width="1.78" height="10.80" fill="#32a83a"/>
<rect x="125.65" y="187.55" width="1.78" height="0.83" fill="#f7931c"/>
<rect x="125.65" y="185.89" width="1.78" height="1.66" fill="#134a89"/>
<rect x="127.18" y="189.30" width="1.78" height="13.20" fill="#532074"/>
<rect x="127.18" y="187.10" width="1.78" height="2.20" fill="#32a83a"/>
<rect x="127.18" y="186.00" width="1.78" height="1.10" fill="#f7931c"/>
<rect x="127.18" y="184.17" width="1.78" height="1.83" fill="#134a89"/>
<rect x="128.71" y="188.13" width="1.78" height="14.37" fill="#532074"/>
<rect x="128.71" y="185.73" width="1.78" height="2.40" fill="#32a83a"/>
<rect x="128.71" y="184.54" width="1.78" height="1.20" fill="#f7931c"/>
<rect x="128.71" y="182.54" width="1.78" height="2.00" fill="#134a89"/>
<rect x="130.24" y="187.06" width="1.78" height="15.44" fill="#532074"/>
<rect x="130.24" y="184.49" width="1.78" height="2.57" fill="#32a83a"/>
<rect x="130.24" y="183.20" width="1.78" height="1.29" fill="#f7931c"/>
<rect x="130.24" y="181.06" width="1.78" height="2.14" fill="#134a89"/>
<rect x="131.77" y="185.81" width="1.78" height="16.69" fill="#532074"/>
<rect x="131.77" y="183.03" width="1.78" height="2.78" fill="#32a83a"/>
<rect x="131.77" y="181.64" width="1.78" height="1.39" fill="#f7931c"/>
<rect x="131.77" y="179.32" width="1.78" height="2.32" fill="#134a89"/>
<rect x="133.40" y="149.46" width="1.40" height="53.04" fill="#532074"/>
<rect x="133.40" y="145.82" width="1.40" height="3.64" fill="#8a8a60"/>
<rect x="133.40" y="142.18" width="1.40" height="3.64" fill="#c7a64a"/>
<rect x="138.80" y="151.30" width="8.30" height="8.20" fill="#134a89"/>
<text x="149.60" y="158.10" font-size="7.2" text-anchor="start" fill="#222" color="#222" font-weight="normal">[1, 3]</text>
<rect x="138.80" y="162.90" width="8.30" height="8.20" fill="#cb0f2e"/>
<text x="149.60" y="169.70" font-size="7.2" text-anchor="start" fill="#222" color="#222" font-weight="normal">[3, 5]</text>
<rect x="138.80" y="174.50" width="8.30" height="8.20" fill="#f7931c"/>
<text x="149.60" y="181.30" font-size="7.2" text-anchor="start" fill="#222" color="#222" font-weight="normal">[5, 20]</text>
<rect x="138.80" y="186.10" width="8.30" height="8.20" fill="#32a83a"/>
<text x="149.60" y="192.90" font-size="7.2" text-anchor="start" fill="#222" color="#222" font-weight="normal">[20, 100]</text>
<rect x="138.80" y="197.70" width="8.30" height="8.20" fill="#532074"/>
<text x="149.60" y="204.50" font-size="7.2" text-anchor="start" fill="#222" color="#222" font-weight="normal">[100, 500]</text>
<text x="138.10" y="137.80" font-size="7.2" text-anchor="start" fill="#222" color="#222" font-weight="normal">Event cluster</text>
<text x="138.10" y="146.40" font-size="7.2" text-anchor="start" fill="#222" color="#222" font-weight="normal">size</text>
<line x1="252.50" y1="40.40" x2="252.50" y2="205.80" stroke="#cfcfcf" stroke-width="0.8"/>
<line x1="276.20" y1="40.40" x2="276.20" y2="205.80" stroke="#cfcfcf" stroke-width="0.8"/>
<line x1="296.50" y1="40.40" x2="296.50" y2="205.80" stroke="#cfcfcf" stroke-width="0.8"/>
<line x1="314.50" y1="40.40" x2="314.50" y2="205.80" stroke="#cfcfcf" stroke-width="0.8"/>
<line x1="332.40" y1="40.40" x2="332.40" y2="205.80" stroke="#cfcfcf" stroke-width="0.8"/>
<line x1="349.60" y1="40.40" x2="349.60" y2="205.80" stroke="#cfcfcf" stroke-width="0.8"/>
<line x1="365.80" y1="40.40" x2="365.80" y2="205.80" stroke="#cfcfcf" stroke-width="0.8"/>
<line x1="379.60" y1="40.40" x2="379.60" y2="205.80" stroke="#cfcfcf" stroke-width="0.8"/>
<line x1="392.80" y1="40.40" x2="392.80" y2="205.80" stroke="#cfcfcf" stroke-width="0.8"/>
<line x1="405.70" y1="40.40" x2="405.70" y2="205.80" stroke="#cfcfcf" stroke-width="0.8"/>
<line x1="418.80" y1="40.40" x2="418.80" y2="205.80" stroke="#cfcfcf" stroke-width="0.8"/>
<line x1="432.30" y1="40.40" x2="432.30" y2="205.80" stroke="#cfcfcf" stroke-width="0.8"/>
<line x1="442.40" y1="40.40" x2="442.40" y2="205.80" stroke="#cfcfcf" stroke-width="0.8"/>
<line x1="449.40" y1="40.40" x2="449.40" y2="205.80" stroke="#cfcfcf" stroke-width="0.8"/>
<line x1="456.80" y1="40.40" x2="456.80" y2="205.80" stroke="#cfcfcf" stroke-width="0.8"/>
<line x1="466.20" y1="40.40" x2="466.20" y2="205.80" stroke="#cfcfcf" stroke-width="0.8"/>
<line x1="474.30" y1="40.40" x2="474.30" y2="205.80" stroke="#cfcfcf" stroke-width="0.8"/>
<line x1="482.40" y1="40.40" x2="482.40" y2="205.80" stroke="#cfcfcf" stroke-width="0.8"/>
<line x1="488.50" y1="40.40" x2="488.50" y2="205.80" stroke="#cfcfcf" stroke-width="0.8"/>
<line x1="494.50" y1="40.40" x2="494.50" y2="205.80" stroke="#cfcfcf" stroke-width="0.8"/>
<line x1="499.20" y1="40.40" x2="499.20" y2="205.80" stroke="#cfcfcf" stroke-width="0.8"/>
<line x1="228.80" y1="123.10" x2="503.20" y2="123.10" stroke="#c4c4c4" stroke-width="0.8"/>
<rect x="232.90" y="108.40" width="1.50" height="11.50" fill="#727272"/>
<rect x="250.30" y="114.15" width="1.40" height="5.75" fill="#727272"/>
<rect x="284.50" y="114.15" width="1.00" height="5.75" fill="#727272"/>
<rect x="293.50" y="114.15" width="0.80" height="5.75" fill="#727272"/>
<rect x="313.40" y="114.15" width="1.00" height="5.75" fill="#727272"/>
<rect x="316.30" y="114.15" width="0.70" height="5.75" fill="#727272"/>
<rect x="360.70" y="114.15" width="0.80" height="5.75" fill="#727272"/>
<rect x="362.00" y="114.15" width="1.00" height="5.75" fill="#727272"/>
<rect x="363.50" y="114.15" width="1.50" height="5.75" fill="#727272"/>
<rect x="373.20" y="114.15" width="0.80" height="5.75" fill="#727272"/>
<rect x="377.00" y="114.15" width="1.00" height="5.75" fill="#727272"/>
<rect x="386.60" y="114.15" width="0.90" height="5.75" fill="#727272"/>
<rect x="388.00" y="114.15" width="1.00" height="5.75" fill="#727272"/>
<rect x="409.80" y="114.15" width="0.70" height="5.75" fill="#727272"/>
<rect x="430.80" y="114.15" width="0.80" height="5.75" fill="#727272"/>
<rect x="433.40" y="114.15" width="0.60" height="5.75" fill="#727272"/>
<rect x="491.50" y="114.15" width="1.00" height="5.75" fill="#727272"/>
<rect x="494.60" y="114.15" width="1.10" height="5.75" fill="#727272"/>
<rect x="500.50" y="114.15" width="0.80" height="5.75" fill="#727272"/>
<rect x="477.00" y="108.40" width="1.00" height="11.50" fill="#3a3a3a"/>
<rect x="497.40" y="91.15" width="1.00" height="28.75" fill="#3a3a3a"/>
<rect x="232.90" y="114.15" width="1.50" height="5.75" fill="#161616"/>
<rect x="260.20" y="114.15" width="1.30" height="5.75" fill="#161616"/>
<rect x="281.50" y="114.15" width="1.00" height="5.75" fill="#161616"/>
<rect x="283.00" y="114.15" width="1.00" height="5.75" fill="#161616"/>
<rect x="292.00" y="114.15" width="1.00" height="5.75" fill="#161616"/>
<rect x="294.70" y="114.15" width="1.00" height="5.75" fill="#161616"/>
<rect x="306.20" y="114.15" width="1.00" height="5.75" fill="#161616"/>
<rect x="311.90" y="114.15" width="1.00" height="5.75" fill="#161616"/>
<rect x="315.00" y="114.15" width="1.00" height="5.75" fill="#161616"/>
<rect x="333.60" y="114.15" width="1.00" height="5.75" fill="#161616"/>
<rect x="338.90" y="114.15" width="1.00" height="5.75" fill="#161616"/>
<rect x="346.70" y="114.15" width="1.00" height="5.75" fill="#161616"/>
<rect x="348.80" y="114.15" width="1.00" height="5.75" fill="#161616"/>
<rect x="354.60" y="114.15" width="1.00" height="5.75" fill="#161616"/>
<rect x="356.00" y="114.15" width="1.00" height="5.75" fill="#161616"/>
<rect x="357.50" y="114.15" width="1.80" height="5.75" fill="#161616"/>
<rect x="371.70" y="114.15" width="1.00" height="5.75" fill="#161616"/>
<rect x="374.00" y="91.15" width="1.00" height="28.75" fill="#161616"/>
<rect x="375.50" y="114.15" width="1.00" height="5.75" fill="#161616"/>
<rect x="378.30" y="114.15" width="1.00" height="5.75" fill="#161616"/>
<rect x="380.00" y="114.15" width="1.00" height="5.75" fill="#161616"/>
<rect x="392.00" y="114.15" width="1.00" height="5.75" fill="#161616"/>
<rect x="397.20" y="114.15" width="1.00" height="5.75" fill="#161616"/>
<rect x="408.40" y="114.15" width="1.00" height="5.75" fill="#161616"/>
<rect x="411.20" y="114.15" width="1.00" height="5.75" fill="#161616"/>
<rect x="419.40" y="114.15" width="1.00" height="5.75" fill="#161616"/>
<rect x="429.30" y="114.15" width="1.00" height="5.75" fill="#161616"/>
<rect x="432.00" y="114.15" width="1.00" height="5.75" fill="#161616"/>
<rect x="434.20" y="114.15" width="0.80" height="5.75" fill="#161616"/>
<rect x="458.60" y="45.15" width="1.00" height="74.75" fill="#161616"/>
<rect x="459.80" y="114.15" width="1.20" height="5.75" fill="#161616"/>
<rect x="463.20" y="45.15" width="1.00" height="74.75" fill="#161616"/>
<rect x="468.00" y="114.15" width="1.00" height="5.75" fill="#161616"/>
<rect x="477.00" y="114.15" width="1.00" height="5.75" fill="#161616"/>
<rect x="485.00" y="114.15" width="1.00" height="5.75" fill="#161616"/>
<rect x="490.00" y="114.15" width="1.00" height="5.75" fill="#161616"/>
<rect x="493.00" y="114.15" width="1.00" height="5.75" fill="#161616"/>
<rect x="497.20" y="114.15" width="0.80" height="5.75" fill="#161616"/>
<rect x="499.00" y="114.15" width="1.00" height="5.75" fill="#161616"/>
<rect x="501.50" y="114.15" width="0.80" height="5.75" fill="#161616"/>
<rect x="249.10" y="191.95" width="0.90" height="10.85" fill="#727272"/>
<rect x="266.00" y="191.95" width="1.50" height="10.85" fill="#727272"/>
<rect x="279.30" y="191.95" width="2.40" height="10.85" fill="#727272"/>
<rect x="300.00" y="191.95" width="2.00" height="10.85" fill="#727272"/>
<rect x="303.20" y="181.10" width="2.20" height="21.70" fill="#727272"/>
<rect x="307.50" y="191.95" width="0.80" height="10.85" fill="#727272"/>
<rect x="310.00" y="191.95" width="0.80" height="10.85" fill="#727272"/>
<rect x="321.00" y="181.10" width="1.00" height="21.70" fill="#727272"/>
<rect x="333.30" y="170.25" width="1.20" height="32.55" fill="#727272"/>
<rect x="350.00" y="181.10" width="2.80" height="21.70" fill="#727272"/>
<rect x="355.00" y="181.10" width="2.00" height="21.70" fill="#727272"/>
<rect x="379.80" y="191.95" width="0.80" height="10.85" fill="#727272"/>
<rect x="385.10" y="191.95" width="1.40" height="10.85" fill="#727272"/>
<rect x="387.60" y="181.10" width="1.40" height="21.70" fill="#727272"/>
<rect x="390.60" y="181.10" width="1.40" height="21.70" fill="#727272"/>
<rect x="406.00" y="181.10" width="1.40" height="21.70" fill="#727272"/>
<rect x="408.50" y="181.10" width="1.50" height="21.70" fill="#727272"/>
<rect x="418.80" y="191.95" width="1.20" height="10.85" fill="#727272"/>
<rect x="420.50" y="170.25" width="1.80" height="32.55" fill="#727272"/>
<rect x="436.90" y="170.25" width="1.30" height="32.55" fill="#727272"/>
<rect x="445.00" y="191.95" width="1.50" height="10.85" fill="#727272"/>
<rect x="456.90" y="181.10" width="2.60" height="21.70" fill="#727272"/>
<rect x="469.90" y="181.10" width="3.90" height="21.70" fill="#727272"/>
<rect x="476.00" y="170.25" width="1.60" height="32.55" fill="#727272"/>
<rect x="477.60" y="181.10" width="1.90" height="21.70" fill="#727272"/>
<rect x="482.90" y="170.25" width="4.20" height="32.55" fill="#727272"/>
<rect x="494.90" y="126.85" width="1.80" height="75.95" fill="#727272"/>
<rect x="501.30" y="181.10" width="1.30" height="21.70" fill="#727272"/>
<rect x="228.80" y="181.10" width="6.10" height="21.70" fill="#161616"/>
<rect x="234.90" y="191.95" width="1.20" height="10.85" fill="#161616"/>
<rect x="236.10" y="181.10" width="3.90" height="21.70" fill="#161616"/>
<rect x="240.00" y="170.25" width="1.30" height="32.55" fill="#161616"/>
<rect x="242.40" y="191.95" width="1.80" height="10.85" fill="#161616"/>
<rect x="246.20" y="191.95" width="2.90" height="10.85" fill="#161616"/>
<rect x="247.50" y="181.10" width="1.30" height="21.70" fill="#161616"/>
<rect x="250.00" y="191.95" width="2.00" height="10.85" fill="#161616"/>
<rect x="253.00" y="191.95" width="4.00" height="10.85" fill="#161616"/>
<rect x="258.70" y="191.95" width="4.20" height="10.85" fill="#161616"/>
<rect x="263.90" y="191.95" width="2.10" height="10.85" fill="#161616"/>
<rect x="267.50" y="191.95" width="8.30" height="10.85" fill="#161616"/>
<rect x="277.00" y="191.95" width="2.30" height="10.85" fill="#161616"/>
<rect x="281.70" y="191.95" width="3.50" height="10.85" fill="#161616"/>
<rect x="285.20" y="170.25" width="1.90" height="32.55" fill="#161616"/>
<rect x="287.10" y="191.95" width="1.90" height="10.85" fill="#161616"/>
<rect x="289.00" y="181.10" width="1.10" height="21.70" fill="#161616"/>
<rect x="290.10" y="191.95" width="1.70" height="10.85" fill="#161616"/>
<rect x="293.00" y="191.95" width="3.00" height="10.85" fill="#161616"/>
<rect x="297.00" y="191.95" width="3.00" height="10.85" fill="#161616"/>
<rect x="302.40" y="191.95" width="3.60" height="10.85" fill="#161616"/>
<rect x="306.00" y="191.95" width="1.50" height="10.85" fill="#161616"/>
<rect x="308.30" y="191.95" width="1.70" height="10.85" fill="#161616"/>
<rect x="310.80" y="191.95" width="2.60" height="10.85" fill="#161616"/>
<rect x="315.00" y="191.95" width="3.00" height="10.85" fill="#161616"/>
<rect x="318.00" y="181.10" width="7.60" height="21.70" fill="#161616"/>
<rect x="319.20" y="170.25" width="1.50" height="32.55" fill="#161616"/>
<rect x="325.60" y="191.95" width="3.00" height="10.85" fill="#161616"/>
<rect x="328.60" y="170.25" width="1.40" height="32.55" fill="#161616"/>
<rect x="330.00" y="191.95" width="2.00" height="10.85" fill="#161616"/>
<rect x="334.50" y="191.95" width="4.90" height="10.85" fill="#161616"/>
<rect x="339.40" y="181.10" width="0.80" height="21.70" fill="#161616"/>
<rect x="340.20" y="191.95" width="0.80" height="10.85" fill="#161616"/>
<rect x="342.80" y="191.95" width="3.10" height="10.85" fill="#161616"/>
<rect x="348.10" y="181.10" width="1.00" height="21.70" fill="#161616"/>
<rect x="350.00" y="191.95" width="2.80" height="10.85" fill="#161616"/>
<rect x="352.80" y="181.10" width="2.20" height="21.70" fill="#161616"/>
<rect x="355.00" y="191.95" width="2.70" height="10.85" fill="#161616"/>
<rect x="357.70" y="191.95" width="1.60" height="10.85" fill="#161616"/>
<rect x="359.30" y="181.10" width="1.20" height="21.70" fill="#161616"/>
<rect x="360.50" y="191.95" width="4.90" height="10.85" fill="#161616"/>
<rect x="366.30" y="191.95" width="4.70" height="10.85" fill="#161616"/>
<rect x="371.00" y="181.10" width="1.40" height="21.70" fill="#161616"/>
<rect x="372.40" y="191.95" width="3.00" height="10.85" fill="#161616"/>
<rect x="375.40" y="181.10" width="1.50" height="21.70" fill="#161616"/>
<rect x="376.90" y="191.95" width="1.70" height="10.85" fill="#161616"/>
<rect x="378.60" y="181.10" width="1.20" height="21.70" fill="#161616"/>
<rect x="380.60" y="191.95" width="2.80" height="10.85" fill="#161616"/>
<rect x="387.60" y="191.95" width="2.40" height="10.85" fill="#161616"/>
<rect x="390.60" y="191.95" width="1.70" height="10.85" fill="#161616"/>
<rect x="393.90" y="191.95" width="4.10" height="10.85" fill="#161616"/>
<rect x="398.00" y="181.10" width="1.60" height="21.70" fill="#161616"/>
<rect x="399.60" y="191.95" width="4.00" height="10.85" fill="#161616"/>
<rect x="406.00" y="191.95" width="2.50" height="10.85" fill="#161616"/>
<rect x="408.50" y="191.95" width="4.40" height="10.85" fill="#161616"/>
<rect x="412.90" y="181.10" width="4.80" height="21.70" fill="#161616"/>
<rect x="417.70" y="191.95" width="1.10" height="10.85" fill="#161616"/>
<rect x="420.00" y="191.95" width="11.50" height="10.85" fill="#161616"/>
<rect x="420.50" y="181.10" width="1.80" height="21.70" fill="#161616"/>
<rect x="426.00" y="181.10" width="1.00" height="21.70" fill="#161616"/>
<rect x="433.30" y="181.10" width="3.60" height="21.70" fill="#161616"/>
<rect x="436.90" y="181.10" width="1.30" height="21.70" fill="#161616"/>
<rect x="438.20" y="181.10" width="2.80" height="21.70" fill="#161616"/>
<rect x="443.20" y="191.95" width="5.30" height="10.85" fill="#161616"/>
<rect x="451.50" y="191.95" width="1.30" height="10.85" fill="#161616"/>
<rect x="454.30" y="191.95" width="1.20" height="10.85" fill="#161616"/>
<rect x="457.00" y="191.95" width="4.80" height="10.85" fill="#161616"/>
<rect x="461.80" y="181.10" width="1.80" height="21.70" fill="#161616"/>
<rect x="463.60" y="191.95" width="2.40" height="10.85" fill="#161616"/>
<rect x="466.50" y="148.55" width="1.40" height="54.25" fill="#161616"/>
<rect x="467.90" y="170.25" width="2.00" height="32.55" fill="#161616"/>
<rect x="469.90" y="191.95" width="3.90" height="10.85" fill="#161616"/>
<rect x="474.60" y="191.95" width="3.00" height="10.85" fill="#161616"/>
<rect x="477.60" y="191.95" width="4.40" height="10.85" fill="#161616"/>
<rect x="482.90" y="181.10" width="4.20" height="21.70" fill="#161616"/>
<rect x="487.10" y="191.95" width="1.20" height="10.85" fill="#161616"/>
<rect x="489.20" y="170.25" width="1.40" height="32.55" fill="#161616"/>
<rect x="490.60" y="181.10" width="3.20" height="21.70" fill="#161616"/>
<rect x="494.90" y="170.25" width="1.80" height="32.55" fill="#161616"/>
<rect x="497.20" y="159.40" width="1.70" height="43.40" fill="#161616"/>
<rect x="496.70" y="170.25" width="2.30" height="32.55" fill="#161616"/>
<rect x="499.60" y="191.95" width="1.70" height="10.85" fill="#161616"/>
<rect x="500.10" y="181.10" width="1.20" height="21.70" fill="#161616"/>
<rect x="501.30" y="191.95" width="1.30" height="10.85" fill="#161616"/>
<line x1="228.20" y1="41.10" x2="503.20" y2="41.10" stroke="#2a2a2a" stroke-width="1.3"/>
<line x1="228.80" y1="39.70" x2="228.80" y2="206.40" stroke="#222" stroke-width="1.2"/>
<line x1="228.80" y1="205.80" x2="503.20" y2="205.80" stroke="#222" stroke-width="1.2"/>
<rect x="503.30" y="41.10" width="10.30" height="82.30" fill="#c8c8c8" stroke="#2a2a2a" stroke-width="1.0"/>
<rect x="503.30" y="123.90" width="10.30" height="82.50" fill="#c8c8c8" stroke="#2a2a2a" stroke-width="1.0"/>
<text x="508.45" y="81.70" font-size="7.6" text-anchor="middle" fill="#1a1a1a" color="#1a1a1a" font-weight="normal" transform="rotate(90 508.45 81.70)" dominant-baseline="central">CBF</text>
<text x="508.45" y="165.00" font-size="7.6" text-anchor="middle" fill="#1a1a1a" color="#1a1a1a" font-weight="normal" transform="rotate(90 508.45 165.00)" dominant-baseline="central">TP53</text>
<line x1="225.80" y1="57.80" x2="228.80" y2="57.80" stroke="#222" stroke-width="0.9"/>
<text x="222.20" y="60.00" font-size="7.6" text-anchor="end" fill="#333" color="#333" font-weight="normal">0.6</text>
<line x1="225.80" y1="78.50" x2="228.80" y2="78.50" stroke="#222" stroke-width="0.9"/>
<text x="222.20" y="80.70" font-size="7.6" text-anchor="end" fill="#333" color="#333" font-weight="normal">0.4</text>
<line x1="225.80" y1="99.20" x2="228.80" y2="99.20" stroke="#222" stroke-width="0.9"/>
<text x="222.20" y="101.40" font-size="7.6" text-anchor="end" fill="#333" color="#333" font-weight="normal">0.2</text>
<line x1="225.80" y1="119.90" x2="228.80" y2="119.90" stroke="#222" stroke-width="0.9"/>
<text x="222.20" y="122.10" font-size="7.6" text-anchor="end" fill="#333" color="#333" font-weight="normal">0.0</text>
<line x1="225.80" y1="135.50" x2="228.80" y2="135.50" stroke="#222" stroke-width="0.9"/>
<text x="222.20" y="137.70" font-size="7.6" text-anchor="end" fill="#333" color="#333" font-weight="normal">0.15</text>
<line x1="225.80" y1="157.90" x2="228.80" y2="157.90" stroke="#222" stroke-width="0.9"/>
<text x="222.20" y="160.10" font-size="7.6" text-anchor="end" fill="#333" color="#333" font-weight="normal">0.10</text>
<line x1="225.80" y1="180.30" x2="228.80" y2="180.30" stroke="#222" stroke-width="0.9"/>
<text x="222.20" y="182.50" font-size="7.6" text-anchor="end" fill="#333" color="#333" font-weight="normal">0.05</text>
<line x1="225.80" y1="202.70" x2="228.80" y2="202.70" stroke="#222" stroke-width="0.9"/>
<text x="222.20" y="204.90" font-size="7.6" text-anchor="end" fill="#333" color="#333" font-weight="normal">0.00</text>
<text x="203.50" y="123.55" font-size="8.5" text-anchor="middle" fill="#111" color="#111" font-weight="normal" transform="rotate(-90 203.50 123.55)" textLength="46.30" lengthAdjust="spacingAndGlyphs">Fraction samples</text>
<text x="241.20" y="36.40" font-size="7.6" text-anchor="middle" fill="#222" color="#222" font-weight="normal">1</text>
<text x="263.90" y="28.40" font-size="7.6" text-anchor="middle" fill="#222" color="#222" font-weight="normal">2</text>
<text x="287.50" y="36.40" font-size="7.6" text-anchor="middle" fill="#222" color="#222" font-weight="normal">3</text>
<text x="305.80" y="28.40" font-size="7.6" text-anchor="middle" fill="#222" color="#222" font-weight="normal">4</text>
<text x="323.00" y="36.40" font-size="7.6" text-anchor="middle" fill="#222" color="#222" font-weight="normal">5</text>
<text x="339.60" y="28.40" font-size="7.6" text-anchor="middle" fill="#222" color="#222" font-weight="normal">6</text>
<text x="358.00" y="36.40" font-size="7.6" text-anchor="middle" fill="#222" color="#222" font-weight="normal">7</text>
<text x="375.00" y="28.40" font-size="7.6" text-anchor="middle" fill="#222" color="#222" font-weight="normal">8</text>
<text x="388.20" y="36.40" font-size="7.6" text-anchor="middle" fill="#222" color="#222" font-weight="normal">9</text>
<text x="399.80" y="28.40" font-size="7.6" text-anchor="middle" fill="#222" color="#222" font-weight="normal">10</text>
<text x="413.20" y="36.40" font-size="7.6" text-anchor="middle" fill="#222" color="#222" font-weight="normal">11</text>
<text x="426.00" y="28.40" font-size="7.6" text-anchor="middle" fill="#222" color="#222" font-weight="normal">12</text>
<text x="437.10" y="36.40" font-size="7.6" text-anchor="middle" fill="#222" color="#222" font-weight="normal">13</text>
<text x="445.80" y="28.40" font-size="7.6" text-anchor="middle" fill="#222" color="#222" font-weight="normal">14</text>
<text x="453.70" y="36.40" font-size="7.6" text-anchor="middle" fill="#222" color="#222" font-weight="normal">15</text>
<text x="461.90" y="28.40" font-size="7.6" text-anchor="middle" fill="#222" color="#222" font-weight="normal">16</text>
<text x="470.50" y="36.40" font-size="7.6" text-anchor="middle" fill="#222" color="#222" font-weight="normal">17</text>
<text x="478.70" y="28.40" font-size="7.6" text-anchor="middle" fill="#222" color="#222" font-weight="normal">18</text>
<text x="485.40" y="36.40" font-size="7.6" text-anchor="middle" fill="#222" color="#222" font-weight="normal">19</text>
<text x="491.30" y="28.40" font-size="7.6" text-anchor="middle" fill="#222" color="#222" font-weight="normal">20</text>
<text x="496.90" y="36.40" font-size="7.6" text-anchor="middle" fill="#222" color="#222" font-weight="normal">21</text>
<text x="502.60" y="28.40" font-size="7.6" text-anchor="middle" fill="#222" color="#222" font-weight="normal">22</text>
<text x="366.00" y="16.60" font-size="8.2" text-anchor="middle" fill="#111" color="#111" font-weight="normal" textLength="35.60" lengthAdjust="spacingAndGlyphs">Chromosome</text>
<path d="M219.70,353.50 A105.1,105.1 0 0 1 206.50,404.49 L191.73,396.29 A88.2,88.2 0 0 0 202.80,353.50 Z" fill="#c8102e" stroke="#262626" stroke-width="0.85"/>
<path d="M206.50,404.49 A105.1,105.1 0 0 1 171.45,441.90 L162.31,427.68 A88.2,88.2 0 0 0 191.73,396.29 Z" fill="#d95a4c" stroke="#262626" stroke-width="0.85"/>
<path d="M171.45,441.90 A105.1,105.1 0 0 1 132.18,457.12 L129.36,440.46 A88.2,88.2 0 0 0 162.31,427.68 Z" fill="#e58b7d" stroke="#262626" stroke-width="0.85"/>
<path d="M132.18,457.12 A105.1,105.1 0 0 1 91.78,456.09 L95.45,439.60 A88.2,88.2 0 0 0 129.36,440.46 Z" fill="#f1c4b8" stroke="#262626" stroke-width="0.85"/>
<path d="M91.78,456.09 A105.1,105.1 0 0 1 56.28,440.93 L65.66,426.88 A88.2,88.2 0 0 0 95.45,439.60 Z" fill="#c06a17" stroke="#262626" stroke-width="0.85"/>
<path d="M56.28,440.93 A105.1,105.1 0 0 1 29.99,415.85 L43.59,405.82 A88.2,88.2 0 0 0 65.66,426.88 Z" fill="#cf8b45" stroke="#262626" stroke-width="0.85"/>
<path d="M29.99,415.85 A105.1,105.1 0 0 1 14.54,385.65 L30.63,380.48 A88.2,88.2 0 0 0 43.59,405.82 Z" fill="#ddae7e" stroke="#262626" stroke-width="0.85"/>
<path d="M14.54,385.65 A105.1,105.1 0 0 1 9.51,355.13 L26.41,354.87 A88.2,88.2 0 0 0 30.63,380.48 Z" fill="#eed2b8" stroke="#262626" stroke-width="0.85"/>
<path d="M9.51,355.13 A105.1,105.1 0 0 1 13.20,325.87 L29.50,330.31 A88.2,88.2 0 0 0 26.41,354.87 Z" fill="#3aae3c" stroke="#262626" stroke-width="0.85"/>
<path d="M13.20,325.87 A105.1,105.1 0 0 1 24.36,299.62 L38.87,308.29 A88.2,88.2 0 0 0 29.50,330.31 Z" fill="#6dbf5e" stroke="#262626" stroke-width="0.85"/>
<path d="M24.36,299.62 A105.1,105.1 0 0 1 42.37,277.15 L53.98,289.43 A88.2,88.2 0 0 0 38.87,308.29 Z" fill="#a2d38e" stroke="#262626" stroke-width="0.85"/>
<path d="M42.37,277.15 A105.1,105.1 0 0 1 65.46,260.60 L73.36,275.54 A88.2,88.2 0 0 0 53.98,289.43 Z" fill="#d0e7c0" stroke="#262626" stroke-width="0.85"/>
<path d="M65.46,260.60 A105.1,105.1 0 0 1 88.20,251.77 L92.45,268.13 A88.2,88.2 0 0 0 73.36,275.54 Z" fill="#1a6b4a" stroke="#262626" stroke-width="0.85"/>
<path d="M88.20,251.77 A105.1,105.1 0 0 1 110.81,248.47 L111.42,265.36 A88.2,88.2 0 0 0 92.45,268.13 Z" fill="#5f9079" stroke="#262626" stroke-width="0.85"/>
<path d="M110.81,248.47 A105.1,105.1 0 0 1 132.52,249.94 L129.64,266.59 A88.2,88.2 0 0 0 111.42,265.36 Z" fill="#93b4a4" stroke="#262626" stroke-width="0.85"/>
<path d="M132.52,249.94 A105.1,105.1 0 0 1 151.15,254.96 L145.27,270.81 A88.2,88.2 0 0 0 129.64,266.59 Z" fill="#c7d6cc" stroke="#262626" stroke-width="0.85"/>
<path d="M151.15,254.96 A105.1,105.1 0 0 1 167.24,262.53 L158.78,277.16 A88.2,88.2 0 0 0 145.27,270.81 Z" fill="#164c8c" stroke="#262626" stroke-width="0.85"/>
<path d="M167.24,262.53 A105.1,105.1 0 0 1 181.35,272.31 L170.61,285.37 A88.2,88.2 0 0 0 158.78,277.16 Z" fill="#5c70a6" stroke="#262626" stroke-width="0.85"/>
<path d="M181.35,272.31 A105.1,105.1 0 0 1 190.53,280.83 L178.32,292.52 A88.2,88.2 0 0 0 170.61,285.37 Z" fill="#8d99c5" stroke="#262626" stroke-width="0.85"/>
<path d="M190.53,280.83 A105.1,105.1 0 0 1 199.38,291.38 L185.75,301.37 A88.2,88.2 0 0 0 178.32,292.52 Z" fill="#b6bcda" stroke="#262626" stroke-width="0.85"/>
<path d="M199.38,291.38 A105.1,105.1 0 0 1 204.89,299.71 L190.37,308.36 A88.2,88.2 0 0 0 185.75,301.37 Z" fill="#f0900f" stroke="#262626" stroke-width="0.85"/>
<path d="M204.89,299.71 A105.1,105.1 0 0 1 209.96,309.31 L194.63,316.42 A88.2,88.2 0 0 0 190.37,308.36 Z" fill="#f7ab4b" stroke="#262626" stroke-width="0.85"/>
<path d="M209.96,309.31 A105.1,105.1 0 0 1 218.99,341.29 L202.20,343.25 A88.2,88.2 0 0 0 194.63,316.42 Z" fill="#fbc98c" stroke="#262626" stroke-width="0.85"/>
<path d="M218.99,341.29 A105.1,105.1 0 0 1 219.70,353.50 L202.80,353.50 A88.2,88.2 0 0 0 202.20,343.25 Z" fill="#fde6ca" stroke="#262626" stroke-width="0.85"/>
<circle cx="114.6" cy="353.5" r="107.3" fill="none" stroke="#333" stroke-width="0.8"/>
<line x1="221.90" y1="353.50" x2="223.70" y2="353.50" stroke="#333" stroke-width="0.8"/>
<line x1="208.43" y1="405.55" x2="210.00" y2="406.43" stroke="#333" stroke-width="0.8"/>
<line x1="172.64" y1="443.75" x2="173.62" y2="445.26" stroke="#333" stroke-width="0.8"/>
<line x1="132.55" y1="459.29" x2="132.85" y2="461.06" stroke="#333" stroke-width="0.8"/>
<line x1="91.30" y1="458.24" x2="90.91" y2="460.00" stroke="#333" stroke-width="0.8"/>
<line x1="55.06" y1="442.76" x2="54.06" y2="444.26" stroke="#333" stroke-width="0.8"/>
<line x1="28.22" y1="417.15" x2="26.77" y2="418.22" stroke="#333" stroke-width="0.8"/>
<line x1="12.44" y1="386.32" x2="10.73" y2="386.87" stroke="#333" stroke-width="0.8"/>
<line x1="7.31" y1="355.17" x2="5.51" y2="355.20" stroke="#333" stroke-width="0.8"/>
<line x1="11.07" y1="325.29" x2="9.34" y2="324.82" stroke="#333" stroke-width="0.8"/>
<line x1="22.47" y1="298.50" x2="20.93" y2="297.57" stroke="#333" stroke-width="0.8"/>
<line x1="40.86" y1="275.56" x2="39.62" y2="274.25" stroke="#333" stroke-width="0.8"/>
<line x1="64.43" y1="258.65" x2="63.59" y2="257.06" stroke="#333" stroke-width="0.8"/>
<line x1="87.65" y1="249.64" x2="87.20" y2="247.90" stroke="#333" stroke-width="0.8"/>
<line x1="110.73" y1="246.27" x2="110.66" y2="244.47" stroke="#333" stroke-width="0.8"/>
<line x1="132.90" y1="247.77" x2="133.21" y2="246.00" stroke="#333" stroke-width="0.8"/>
<line x1="151.92" y1="252.90" x2="152.54" y2="251.21" stroke="#333" stroke-width="0.8"/>
<line x1="168.34" y1="260.63" x2="169.24" y2="259.07" stroke="#333" stroke-width="0.8"/>
<line x1="182.74" y1="270.62" x2="183.89" y2="269.23" stroke="#333" stroke-width="0.8"/>
<line x1="192.12" y1="279.31" x2="193.42" y2="278.07" stroke="#333" stroke-width="0.8"/>
<line x1="201.15" y1="290.08" x2="202.61" y2="289.02" stroke="#333" stroke-width="0.8"/>
<line x1="206.78" y1="298.58" x2="208.33" y2="297.66" stroke="#333" stroke-width="0.8"/>
<line x1="211.96" y1="308.39" x2="213.59" y2="307.63" stroke="#333" stroke-width="0.8"/>
<line x1="221.17" y1="341.03" x2="222.96" y2="340.83" stroke="#333" stroke-width="0.8"/>
<text x="208.57" y="376.17" font-size="7.2" text-anchor="middle" dominant-baseline="central" fill="#fff" fill-opacity="0.8" style="stroke:#fff;stroke-opacity:0.64;stroke-width:0.28px" transform="rotate(-75.5 208.57 376.17)">1</text>
<text x="186.22" y="418.42" font-size="7.2" text-anchor="middle" dominant-baseline="central" fill="#fff" fill-opacity="0.8" style="stroke:#fff;stroke-opacity:0.64;stroke-width:0.28px" transform="rotate(-46.9 186.22 418.42)">2</text>
<text x="151.03" y="443.04" font-size="7.2" text-anchor="middle" dominant-baseline="central" fill="#fff" fill-opacity="0.8" style="stroke:#fff;stroke-opacity:0.64;stroke-width:0.28px" transform="rotate(-21.2 151.03 443.04)">3</text>
<text x="113.74" y="450.16" font-size="7.2" text-anchor="middle" dominant-baseline="central" fill="#fff" fill-opacity="0.8" style="stroke:#fff;stroke-opacity:0.64;stroke-width:0.28px" transform="rotate(1.5 113.74 450.16)">4</text>
<text x="78.12" y="443.01" font-size="7.2" text-anchor="middle" dominant-baseline="central" fill="#fff" fill-opacity="0.95" style="stroke:#fff;stroke-opacity:0.76;stroke-width:0.28px" transform="rotate(23.1 78.12 443.01)">5</text>
<text x="49.03" y="424.53" font-size="7.2" text-anchor="middle" dominant-baseline="central" fill="#fff" fill-opacity="0.95" style="stroke:#fff;stroke-opacity:0.76;stroke-width:0.28px" transform="rotate(43.7 49.03 424.53)">6</text>
<text x="29.29" y="398.95" font-size="7.2" text-anchor="middle" dominant-baseline="central" fill="#fff" fill-opacity="0.95" style="stroke:#fff;stroke-opacity:0.76;stroke-width:0.28px" transform="rotate(62.9 29.29 398.95)">7</text>
<text x="19.49" y="370.78" font-size="7.2" text-anchor="middle" dominant-baseline="central" fill="#fff" fill-opacity="0.95" style="stroke:#fff;stroke-opacity:0.76;stroke-width:0.28px" transform="rotate(80.6 19.49 370.78)">8</text>
<text x="18.91" y="339.84" font-size="7.2" text-anchor="middle" dominant-baseline="central" fill="#fff" fill-opacity="0.95" style="stroke:#fff;stroke-opacity:0.76;stroke-width:0.28px" transform="rotate(-82.8 18.91 339.84)">9</text>
<text x="26.29" y="314.20" font-size="7.2" text-anchor="middle" dominant-baseline="central" fill="#fff" fill-opacity="0.95" style="stroke:#fff;stroke-opacity:0.76;stroke-width:0.28px" transform="rotate(-67.0 26.29 314.20)">10</text>
<text x="40.18" y="291.81" font-size="7.2" text-anchor="middle" dominant-baseline="central" fill="#fff" fill-opacity="0.95" style="stroke:#fff;stroke-opacity:0.76;stroke-width:0.28px" transform="rotate(-51.3 40.18 291.81)">11</text>
<text x="59.58" y="274.03" font-size="7.2" text-anchor="middle" dominant-baseline="central" fill="#333" fill-opacity="0.95" style="stroke:#333;stroke-opacity:0.76;stroke-width:0.28px" transform="rotate(-35.6 59.58 274.03)">12</text>
<text x="81.12" y="262.82" font-size="7.2" text-anchor="middle" dominant-baseline="central" fill="#fff" fill-opacity="0.95" style="stroke:#fff;stroke-opacity:0.76;stroke-width:0.28px" transform="rotate(-21.2 81.12 262.82)">13</text>
<text x="103.60" y="257.43" font-size="7.2" text-anchor="middle" dominant-baseline="central" fill="#fff" fill-opacity="0.95" style="stroke:#fff;stroke-opacity:0.76;stroke-width:0.28px" transform="rotate(-8.3 103.60 257.43)">14</text>
<text x="122.73" y="257.18" font-size="7.2" text-anchor="middle" dominant-baseline="central" fill="#fff" fill-opacity="0.95" style="stroke:#fff;stroke-opacity:0.76;stroke-width:0.28px" transform="rotate(3.9 122.73 257.18)">15</text>
<text x="141.30" y="260.60" font-size="7.2" text-anchor="middle" dominant-baseline="central" fill="#fff" fill-opacity="0.95" style="stroke:#fff;stroke-opacity:0.76;stroke-width:0.28px" transform="rotate(15.1 141.30 260.60)">16</text>
<text x="157.20" y="266.73" font-size="7.2" text-anchor="middle" dominant-baseline="central" fill="#fff" fill-opacity="0.95" style="stroke:#fff;stroke-opacity:0.76;stroke-width:0.28px" transform="rotate(25.2 157.20 266.73)">17</text>
<text x="170.99" y="274.99" font-size="7.2" text-anchor="middle" dominant-baseline="central" fill="#fff" fill-opacity="0.95" style="stroke:#fff;stroke-opacity:0.76;stroke-width:0.28px" transform="rotate(34.7 170.99 274.99)">18</text>
<text x="181.49" y="283.72" font-size="7.2" text-anchor="middle" dominant-baseline="central" fill="#fff" fill-opacity="0.95" style="stroke:#fff;stroke-opacity:0.76;stroke-width:0.28px" transform="rotate(42.8 181.49 283.72)">19</text>
<text x="189.68" y="292.62" font-size="7.2" text-anchor="middle" dominant-baseline="central" fill="#fff" fill-opacity="0.95" style="stroke:#fff;stroke-opacity:0.76;stroke-width:0.28px" transform="rotate(50.0 189.68 292.62)">20</text>
<text x="196.07" y="301.48" font-size="7.2" text-anchor="middle" dominant-baseline="central" fill="#fff" fill-opacity="0.95" style="stroke:#fff;stroke-opacity:0.76;stroke-width:0.28px" transform="rotate(56.5 196.07 301.48)">21</text>
<text x="200.82" y="309.80" font-size="7.2" text-anchor="middle" dominant-baseline="central" fill="#fff" fill-opacity="0.95" style="stroke:#fff;stroke-opacity:0.76;stroke-width:0.28px" transform="rotate(62.2 200.82 309.80)">22</text>
<text x="208.05" y="328.78" font-size="7.2" text-anchor="middle" dominant-baseline="central" fill="#fff" fill-opacity="0.95" style="stroke:#fff;stroke-opacity:0.76;stroke-width:0.28px" transform="rotate(74.2 208.05 328.78)">X</text>
<text x="211.18" y="349.47" font-size="7.2" text-anchor="middle" dominant-baseline="central" fill="#333" fill-opacity="0.95" style="stroke:#333;stroke-opacity:0.76;stroke-width:0.28px" transform="rotate(86.7 211.18 349.47)">Y</text>
<circle cx="114.6" cy="353.5" r="80.2" fill="none" stroke="#504646" stroke-width="0.95"/>
<path d="M194.36,345.12 A80.2,80.2 0 0 1 194.69,349.30" fill="none" stroke="#ffffff" stroke-width="1.6"/>
<path d="M194.02,364.66 A80.2,80.2 0 0 1 193.58,367.43" fill="none" stroke="#ffffff" stroke-width="1.6"/>
<path d="M189.47,382.24 A80.2,80.2 0 0 1 187.87,386.12" fill="none" stroke="#ffffff" stroke-width="1.6"/>
<path d="M178.65,401.77 A80.2,80.2 0 0 1 176.48,404.51" fill="none" stroke="#ffffff" stroke-width="1.6"/>
<path d="M168.26,413.10 A80.2,80.2 0 0 1 166.15,414.94" fill="none" stroke="#ffffff" stroke-width="1.6"/>
<path d="M120.19,433.50 A80.2,80.2 0 0 1 117.40,433.65" fill="none" stroke="#ffffff" stroke-width="1.6"/>
<path d="M106.22,433.26 A80.2,80.2 0 0 1 102.05,432.71" fill="none" stroke="#ffffff" stroke-width="1.6"/>
<path d="M65.22,416.70 A80.2,80.2 0 0 1 61.98,414.03" fill="none" stroke="#ffffff" stroke-width="1.6"/>
<path d="M37.51,375.61 A80.2,80.2 0 0 1 36.62,372.22" fill="none" stroke="#ffffff" stroke-width="1.6"/>
<path d="M38.33,328.72 A80.2,80.2 0 0 1 39.73,324.76" fill="none" stroke="#ffffff" stroke-width="1.6"/>
<path d="M95.20,275.68 A80.2,80.2 0 0 1 99.30,274.77" fill="none" stroke="#ffffff" stroke-width="1.6"/>
<path d="M189.96,326.07 A80.2,80.2 0 0 1 190.87,328.72" fill="none" stroke="#ffffff" stroke-width="1.6"/>
<path d="M117.40,273.35 A80.2,80.2 0 0 1 125.76,274.08" fill="none" stroke="#ffffff" stroke-width="1.6"/>
<path d="M110.74,268.59 A85.0,85.0 0 0 1 114.30,268.50 L114.32,273.30 A80.2,80.2 0 0 0 110.96,273.38 Z" fill="#2a64a8"/>
<path d="M113.19,272.71 A80.8,80.8 0 0 1 118.83,272.81 L118.76,274.21 A79.4,79.4 0 0 0 113.21,274.11 Z" fill="#2a64a8"/>
<path d="M54.67,295.22 A83.6,83.6 0 0 1 57.16,292.76 L59.50,295.23 A80.2,80.2 0 0 0 57.10,297.59 Z" fill="#2a64a8"/>
<path d="M31.81,354.95 A82.8,82.8 0 0 1 31.93,348.88 L34.53,349.02 A80.2,80.2 0 0 0 34.41,354.90 Z" fill="#2a64a8"/>
<path d="M168.73,293.38 A80.9,80.9 0 0 1 172.79,297.30 L171.64,298.41 A79.3,79.3 0 0 0 167.66,294.57 Z" fill="#3a8a9a"/>
<path d="M180.37,305.71 A81.3,81.3 0 0 1 184.65,312.24 L182.93,313.25 A79.3,79.3 0 0 0 178.76,306.89 Z" fill="#2a64a8"/>
<path d="M189.25,318.37 A82.5,82.5 0 0 1 189.85,319.68 L187.75,320.62 A80.2,80.2 0 0 0 187.17,319.35 Z" fill="#2a64a8"/>
<path d="M130.04,432.91 A80.9,80.9 0 0 1 126.56,433.51 L126.34,432.03 A79.4,79.4 0 0 0 129.75,431.44 Z" fill="#2a64a8"/>
<path d="M155.05,423.56 A80.9,80.9 0 0 1 153.20,424.60 L152.49,423.28 A79.4,79.4 0 0 0 154.30,422.26 Z" fill="#3a8a9a"/>
<path d="M71.16,286.09 A80.2,80.2 0 0 1 73.77,284.47 L75.76,287.83 A76.3,76.3 0 0 0 73.27,289.36 Z" fill="#d0202a"/>
<path d="M65.44,290.13 A80.2,80.2 0 0 1 66.33,289.45 L68.14,291.85 A77.2,77.2 0 0 0 67.28,292.50 Z" fill="#d0202a"/>
<path d="M61.77,293.16 A80.2,80.2 0 0 1 62.62,292.42 L64.57,294.71 A77.2,77.2 0 0 0 63.75,295.41 Z" fill="#d0202a"/>
<path d="M45.40,310.26 A81.6,81.6 0 0 1 47.76,306.70 L51.69,309.45 A76.8,76.8 0 0 0 49.47,312.80 Z" fill="#d0202a"/>
<path d="M35.62,339.57 A80.2,80.2 0 0 1 35.82,338.47 L38.47,338.98 A77.5,77.5 0 0 0 38.28,340.04 Z" fill="#e08080"/>
<path d="M35.39,340.95 A80.2,80.2 0 0 1 35.52,340.13 L38.19,340.58 A77.5,77.5 0 0 0 38.05,341.38 Z" fill="#e08080"/>
<path d="M50.21,401.32 A80.2,80.2 0 0 1 38.63,379.21 L41.10,378.38 A77.6,77.6 0 0 0 52.30,399.77 Z" fill="#d0202a"/>
<path d="M74.50,422.96 A80.2,80.2 0 0 1 69.17,419.59 L71.38,416.38 A76.3,76.3 0 0 0 76.45,419.58 Z" fill="#d0202a"/>
<path d="M77.94,424.83 A80.2,80.2 0 0 1 77.20,424.44 L78.69,421.61 A77.0,77.0 0 0 0 79.40,421.99 Z" fill="#d0202a"/>
<path d="M80.71,426.19 A80.2,80.2 0 0 1 79.95,425.83 L81.42,422.76 A76.8,76.8 0 0 0 82.14,423.10 Z" fill="#d0202a"/>
<path d="M84.56,427.86 A80.2,80.2 0 0 1 83.78,427.54 L84.86,424.96 A77.4,77.4 0 0 0 85.61,425.26 Z" fill="#d0202a"/>
<path d="M88.49,429.33 A80.2,80.2 0 0 1 87.70,429.05 L88.57,426.60 A77.6,77.6 0 0 0 89.34,426.87 Z" fill="#d0202a"/>
<path d="M128.63,273.93 A80.8,80.8 0 0 1 166.54,291.60 L165.77,292.52 A79.6,79.6 0 0 0 128.42,275.11 Z" fill="#d8505a"/>
<path d="M130.86,274.97 A80.2,80.2 0 0 1 131.69,275.14 L130.79,279.24 A76.0,76.0 0 0 0 130.01,279.08 Z" fill="#e06070"/>
<path d="M133.32,275.52 A80.2,80.2 0 0 1 134.00,275.68 L133.35,278.30 A77.5,77.5 0 0 0 132.69,278.14 Z" fill="#e06070"/>
<path d="M136.98,276.48 A80.2,80.2 0 0 1 137.78,276.72 L136.86,279.79 A77.0,77.0 0 0 0 136.08,279.56 Z" fill="#e06070"/>
<path d="M140.71,277.67 A80.2,80.2 0 0 1 141.77,278.04 L140.34,281.99 A76.0,76.0 0 0 0 139.34,281.64 Z" fill="#d84050"/>
<path d="M147.73,280.46 A80.2,80.2 0 0 1 148.75,280.93 L146.75,285.19 A75.5,75.5 0 0 0 145.79,284.74 Z" fill="#d84050"/>
<path d="M143.70,429.31 A81.2,81.2 0 0 1 137.12,431.52 L136.51,429.40 A79.0,79.0 0 0 0 142.91,427.25 Z" fill="#d0202a"/>
<path d="M154.09,283.70 L153.68,287.15 L156.78,286.00 L159.15,292.18 L166.28,291.91 Z" fill="#d0202a"/>
<path d="M73.13,303.19 Q114.60,353.50 80.24,408.91" fill="none" stroke="#cbced3" stroke-width="0.95"/>
<path d="M75.36,301.43 Q114.60,353.50 82.99,410.53" fill="none" stroke="#cbced3" stroke-width="0.95"/>
<path d="M77.67,299.77 Q114.60,353.50 85.51,411.85" fill="none" stroke="#cbced3" stroke-width="0.95"/>
<path d="M80.05,298.21 Q114.60,353.50 88.60,413.29" fill="none" stroke="#cbced3" stroke-width="0.95"/>
<path d="M82.49,296.75 Q114.60,353.50 91.77,414.57" fill="none" stroke="#cbced3" stroke-width="0.95"/>
<path d="M74.01,302.47 Q114.60,353.50 128.71,289.85" fill="none" stroke="#cbced3" stroke-width="0.95"/>
<path d="M76.28,300.75 Q114.60,353.50 131.48,290.52" fill="none" stroke="#cbced3" stroke-width="0.95"/>
<path d="M78.61,299.13 Q114.60,353.50 134.21,291.32" fill="none" stroke="#cbced3" stroke-width="0.95"/>
<path d="M81.02,297.61 Q114.60,353.50 136.36,292.04" fill="none" stroke="#cbced3" stroke-width="0.95"/>
<path d="M82.99,296.47 Q114.60,353.50 139.02,293.05" fill="none" stroke="#cbced3" stroke-width="0.95"/>
<path d="M127.93,289.68 Q114.60,353.50 81.02,409.39" fill="none" stroke="#cbced3" stroke-width="0.95"/>
<path d="M130.37,290.24 Q114.60,353.50 83.49,410.80" fill="none" stroke="#cbced3" stroke-width="0.95"/>
<path d="M133.12,290.98 Q114.60,353.50 86.02,412.10" fill="none" stroke="#cbced3" stroke-width="0.95"/>
<path d="M135.83,291.85 Q114.60,353.50 88.08,413.06" fill="none" stroke="#cbced3" stroke-width="0.95"/>
<path d="M138.50,292.84 Q114.60,353.50 90.18,413.95" fill="none" stroke="#cbced3" stroke-width="0.95"/>
<path d="M141.12,293.94 Q114.60,353.50 91.77,414.57" fill="none" stroke="#cbced3" stroke-width="0.95"/>
<path d="M143.39,295.00 Q114.60,353.50 93.16,415.07" fill="none" stroke="#cbced3" stroke-width="0.95"/>
<path d="M54.58,328.02 Q114.60,353.50 88.08,413.06" fill="none" stroke="#cbced3" stroke-width="0.95"/>
<path d="M50.26,342.96 Q114.60,353.50 141.12,293.94" fill="none" stroke="#cbced3" stroke-width="0.95"/>
<path d="M49.48,350.31 Q114.60,353.50 90.18,413.95" fill="none" stroke="#cbced3" stroke-width="0.95"/>
<path d="M50.39,364.82 Q114.60,353.50 92.30,414.77" fill="none" stroke="#cbced3" stroke-width="0.95"/>
<path d="M56.35,382.80 Q114.60,353.50 131.48,290.52" fill="none" stroke="#cbced3" stroke-width="0.95"/>
<path d="M71.48,402.41 Q114.60,353.50 142.15,294.41" fill="none" stroke="#cbced3" stroke-width="0.95"/>
<path d="M67.86,308.04 Q114.60,353.50 168.97,389.49" fill="none" stroke="#cbced3" stroke-width="0.95"/>
<path d="M156.07,303.19 Q114.60,353.50 157.63,304.52" fill="none" stroke="#cbced3" stroke-width="0.95"/>
<path d="M156.51,303.55 Q114.60,353.50 157.89,304.74" fill="none" stroke="#cbced3" stroke-width="0.95"/>
<path d="M156.94,303.92 Q114.60,353.50 167.68,315.64" fill="none" stroke="#cbced3" stroke-width="0.95"/>
<path d="M168.01,316.10 Q114.60,353.50 179.68,357.48" fill="none" stroke="#cbced3" stroke-width="0.95"/>
<path d="M129.27,417.03 Q114.60,353.50 137.75,414.45" fill="none" stroke="#cbced3" stroke-width="0.95"/>
<path d="M71.54,303.09 A66.3,66.3 0 0 1 82.96,295.23" fill="none" stroke="#1d4d80" stroke-width="2.3"/>
<path d="M127.25,288.42 A66.3,66.3 0 0 1 137.28,291.20" fill="none" stroke="#1d4d80" stroke-width="2.3"/>
<path d="M138.58,291.69 A66.3,66.3 0 0 1 144.49,294.32" fill="none" stroke="#1d4d80" stroke-width="2.3"/>
<path d="M93.23,416.26 A66.3,66.3 0 0 1 78.98,409.42" fill="none" stroke="#1d4d80" stroke-width="2.3"/>
<line x1="276.70" y1="257.50" x2="276.70" y2="422.70" stroke="#222" stroke-width="1.1"/>
<line x1="276.10" y1="422.10" x2="309.40" y2="422.10" stroke="#222" stroke-width="1.1"/>
<line x1="273.60" y1="414.10" x2="276.70" y2="414.10" stroke="#222" stroke-width="0.9"/>
<text x="270.70" y="416.30" font-size="7.6" text-anchor="end" fill="#333" color="#333" font-weight="normal">0.00</text>
<line x1="273.60" y1="376.70" x2="276.70" y2="376.70" stroke="#222" stroke-width="0.9"/>
<text x="270.70" y="378.90" font-size="7.6" text-anchor="end" fill="#333" color="#333" font-weight="normal">0.25</text>
<line x1="273.60" y1="339.30" x2="276.70" y2="339.30" stroke="#222" stroke-width="0.9"/>
<text x="270.70" y="341.50" font-size="7.6" text-anchor="end" fill="#333" color="#333" font-weight="normal">0.50</text>
<line x1="273.60" y1="301.90" x2="276.70" y2="301.90" stroke="#222" stroke-width="0.9"/>
<text x="270.70" y="304.10" font-size="7.6" text-anchor="end" fill="#333" color="#333" font-weight="normal">0.75</text>
<line x1="273.60" y1="264.50" x2="276.70" y2="264.50" stroke="#222" stroke-width="0.9"/>
<text x="270.70" y="266.70" font-size="7.6" text-anchor="end" fill="#333" color="#333" font-weight="normal">1.00</text>
<rect x="294.00" y="325.09" width="13.00" height="89.01" fill="#c8102e"/>
<line x1="279.20" y1="414.10" x2="291.60" y2="414.10" stroke="#9fb0c4" stroke-width="0.7"/>
<line x1="285.40" y1="422.10" x2="285.40" y2="424.60" stroke="#222" stroke-width="0.9"/>
<line x1="300.60" y1="422.10" x2="300.60" y2="424.60" stroke="#222" stroke-width="0.9"/>
<text x="288.30" y="442.50" font-size="7.4" text-anchor="start" fill="#333" color="#333" font-weight="normal" transform="rotate(-90 288.30 442.50)">CBF</text>
<text x="303.30" y="444.60" font-size="7.4" text-anchor="start" fill="#333" color="#333" font-weight="normal" transform="rotate(-90 303.30 444.60)">TP53</text>
<text x="288.00" y="321.70" font-size="7.3" text-anchor="start" fill="#222" color="#222" font-weight="normal" transform="rotate(-90 288.00 321.70)" textLength="22.70" lengthAdjust="spacingAndGlyphs">N = 18</text>
<text x="302.50" y="321.70" font-size="7.3" text-anchor="start" fill="#222" color="#222" font-weight="normal" transform="rotate(-90 302.50 321.70)" textLength="22.70" lengthAdjust="spacingAndGlyphs">N = 42</text>
<text x="251.00" y="339.40" font-size="8.6" text-anchor="middle" fill="#111" color="#111" font-weight="normal" transform="rotate(-90 251.00 339.40)" textLength="102.50" lengthAdjust="spacingAndGlyphs">Fraction samples with chromothripsis</text>
<rect x="362.30" y="236.20" width="150.90" height="12.40" fill="#cccccc" stroke="#2a2a2a" stroke-width="1.0"/>
<text x="437.75" y="245.40" font-size="7.9" text-anchor="middle" fill="#1a1a1a" color="#1a1a1a" font-weight="normal">PCAWG</text>
<rect x="363.47" y="304.60" width="5.46" height="18.70" fill="#134a85" stroke="#7aaee0" stroke-width="0.6"/>
<rect x="369.98" y="303.49" width="5.46" height="19.81" fill="#134a85" stroke="#7aaee0" stroke-width="0.6"/>
<rect x="376.48" y="309.24" width="5.46" height="14.06" fill="#134a85" stroke="#7aaee0" stroke-width="0.6"/>
<rect x="382.98" y="308.60" width="5.46" height="14.70" fill="#134a85" stroke="#7aaee0" stroke-width="0.6"/>
<rect x="389.49" y="308.60" width="5.46" height="14.70" fill="#134a85" stroke="#7aaee0" stroke-width="0.6"/>
<rect x="395.99" y="306.69" width="5.46" height="16.61" fill="#134a85" stroke="#7aaee0" stroke-width="0.6"/>
<rect x="402.50" y="313.93" width="5.46" height="9.37" fill="#134a85" stroke="#7aaee0" stroke-width="0.6"/>
<rect x="409.00" y="302.85" width="5.46" height="20.45" fill="#134a85" stroke="#7aaee0" stroke-width="0.6"/>
<rect x="415.51" y="313.08" width="5.46" height="10.22" fill="#134a85" stroke="#7aaee0" stroke-width="0.6"/>
<rect x="422.01" y="313.93" width="5.46" height="9.37" fill="#134a85" stroke="#7aaee0" stroke-width="0.6"/>
<rect x="428.51" y="310.52" width="5.46" height="12.78" fill="#134a85" stroke="#7aaee0" stroke-width="0.6"/>
<rect x="435.02" y="307.54" width="5.46" height="15.76" fill="#134a85" stroke="#7aaee0" stroke-width="0.6"/>
<rect x="441.52" y="313.08" width="5.46" height="10.22" fill="#134a85" stroke="#7aaee0" stroke-width="0.6"/>
<rect x="448.03" y="318.53" width="5.46" height="4.77" fill="#134a85" stroke="#7aaee0" stroke-width="0.6"/>
<rect x="454.53" y="318.53" width="5.46" height="4.77" fill="#134a85" stroke="#7aaee0" stroke-width="0.6"/>
<rect x="461.04" y="320.02" width="5.46" height="3.28" fill="#134a85" stroke="#7aaee0" stroke-width="0.6"/>
<rect x="467.54" y="312.48" width="5.46" height="10.82" fill="#134a85" stroke="#7aaee0" stroke-width="0.6"/>
<rect x="474.04" y="313.08" width="5.46" height="10.22" fill="#134a85" stroke="#7aaee0" stroke-width="0.6"/>
<rect x="480.55" y="313.08" width="5.46" height="10.22" fill="#134a85" stroke="#7aaee0" stroke-width="0.6"/>
<rect x="487.05" y="322.19" width="5.46" height="1.11" fill="#134a85" stroke="#7aaee0" stroke-width="0.6"/>
<rect x="493.56" y="317.85" width="5.46" height="5.45" fill="#134a85" stroke="#7aaee0" stroke-width="0.6"/>
<rect x="500.06" y="319.34" width="5.46" height="3.96" fill="#134a85" stroke="#7aaee0" stroke-width="0.6"/>
<rect x="506.57" y="317.21" width="5.46" height="6.09" fill="#134a85" stroke="#7aaee0" stroke-width="0.6"/>
<rect x="362.30" y="248.60" width="150.90" height="78.20" fill="none" stroke="#2a2a2a" stroke-width="1.0"/>
<line x1="359.30" y1="323.30" x2="362.30" y2="323.30" stroke="#222" stroke-width="0.9"/>
<text x="356.50" y="325.50" font-size="7.6" text-anchor="end" fill="#333" color="#333" font-weight="normal">0.00</text>
<line x1="359.30" y1="302.00" x2="362.30" y2="302.00" stroke="#222" stroke-width="0.9"/>
<text x="356.50" y="304.20" font-size="7.6" text-anchor="end" fill="#333" color="#333" font-weight="normal">0.05</text>
<line x1="359.30" y1="280.70" x2="362.30" y2="280.70" stroke="#222" stroke-width="0.9"/>
<text x="356.50" y="282.90" font-size="7.6" text-anchor="end" fill="#333" color="#333" font-weight="normal">0.10</text>
<line x1="359.30" y1="259.40" x2="362.30" y2="259.40" stroke="#222" stroke-width="0.9"/>
<text x="356.50" y="261.60" font-size="7.6" text-anchor="end" fill="#333" color="#333" font-weight="normal">0.15</text>
<rect x="362.30" y="331.30" width="150.90" height="12.10" fill="#cccccc" stroke="#2a2a2a" stroke-width="1.0"/>
<text x="437.75" y="340.20" font-size="7.9" text-anchor="middle" fill="#1a1a1a" color="#1a1a1a" font-weight="normal">TP53 myeloid</text>
<rect x="363.47" y="397.61" width="5.46" height="20.29" fill="#134a85" stroke="#7aaee0" stroke-width="0.6"/>
<rect x="369.98" y="397.61" width="5.46" height="20.29" fill="#134a85" stroke="#7aaee0" stroke-width="0.6"/>
<rect x="376.48" y="397.61" width="5.46" height="20.29" fill="#134a85" stroke="#7aaee0" stroke-width="0.6"/>
<rect x="389.49" y="346.90" width="5.46" height="71.00" fill="#134a85" stroke="#7aaee0" stroke-width="0.6"/>
<rect x="402.50" y="387.47" width="5.46" height="30.43" fill="#134a85" stroke="#7aaee0" stroke-width="0.6"/>
<rect x="409.00" y="407.76" width="5.46" height="10.14" fill="#134a85" stroke="#7aaee0" stroke-width="0.6"/>
<rect x="415.51" y="407.76" width="5.46" height="10.14" fill="#134a85" stroke="#7aaee0" stroke-width="0.6"/>
<rect x="422.01" y="407.76" width="5.46" height="10.14" fill="#134a85" stroke="#7aaee0" stroke-width="0.6"/>
<rect x="428.51" y="397.61" width="5.46" height="20.29" fill="#134a85" stroke="#7aaee0" stroke-width="0.6"/>
<rect x="435.02" y="387.47" width="5.46" height="30.43" fill="#134a85" stroke="#7aaee0" stroke-width="0.6"/>
<rect x="441.52" y="387.47" width="5.46" height="30.43" fill="#134a85" stroke="#7aaee0" stroke-width="0.6"/>
<rect x="461.04" y="387.47" width="5.46" height="30.43" fill="#134a85" stroke="#7aaee0" stroke-width="0.6"/>
<rect x="467.54" y="367.19" width="5.46" height="50.71" fill="#134a85" stroke="#7aaee0" stroke-width="0.6"/>
<rect x="480.55" y="387.47" width="5.46" height="30.43" fill="#134a85" stroke="#7aaee0" stroke-width="0.6"/>
<rect x="493.56" y="377.33" width="5.46" height="40.57" fill="#134a85" stroke="#7aaee0" stroke-width="0.6"/>
<rect x="506.57" y="407.76" width="5.46" height="10.14" fill="#134a85" stroke="#7aaee0" stroke-width="0.6"/>
<rect x="362.30" y="343.40" width="150.90" height="77.20" fill="none" stroke="#2a2a2a" stroke-width="1.0"/>
<line x1="359.30" y1="417.90" x2="362.30" y2="417.90" stroke="#222" stroke-width="0.9"/>
<text x="356.50" y="420.10" font-size="7.6" text-anchor="end" fill="#333" color="#333" font-weight="normal">0.00</text>
<line x1="359.30" y1="396.60" x2="362.30" y2="396.60" stroke="#222" stroke-width="0.9"/>
<text x="356.50" y="398.80" font-size="7.6" text-anchor="end" fill="#333" color="#333" font-weight="normal">0.05</text>
<line x1="359.30" y1="375.30" x2="362.30" y2="375.30" stroke="#222" stroke-width="0.9"/>
<text x="356.50" y="377.50" font-size="7.6" text-anchor="end" fill="#333" color="#333" font-weight="normal">0.10</text>
<line x1="359.30" y1="354.00" x2="362.30" y2="354.00" stroke="#222" stroke-width="0.9"/>
<text x="356.50" y="356.20" font-size="7.6" text-anchor="end" fill="#333" color="#333" font-weight="normal">0.15</text>
<line x1="366.20" y1="420.60" x2="366.20" y2="424.30" stroke="#222" stroke-width="0.8"/>
<text x="368.45" y="428.00" font-size="6.4" text-anchor="end" fill="#333" color="#333" font-weight="normal" transform="rotate(-90 368.45 428.00)">1</text>
<line x1="372.71" y1="420.60" x2="372.71" y2="424.30" stroke="#222" stroke-width="0.8"/>
<text x="374.96" y="428.00" font-size="6.4" text-anchor="end" fill="#333" color="#333" font-weight="normal" transform="rotate(-90 374.96 428.00)">2</text>
<line x1="379.21" y1="420.60" x2="379.21" y2="424.30" stroke="#222" stroke-width="0.8"/>
<text x="381.46" y="428.00" font-size="6.4" text-anchor="end" fill="#333" color="#333" font-weight="normal" transform="rotate(-90 381.46 428.00)">3</text>
<line x1="385.72" y1="420.60" x2="385.72" y2="424.30" stroke="#222" stroke-width="0.8"/>
<text x="387.97" y="428.00" font-size="6.4" text-anchor="end" fill="#333" color="#333" font-weight="normal" transform="rotate(-90 387.97 428.00)">4</text>
<line x1="392.22" y1="420.60" x2="392.22" y2="424.30" stroke="#222" stroke-width="0.8"/>
<text x="394.47" y="428.00" font-size="6.4" text-anchor="end" fill="#333" color="#333" font-weight="normal" transform="rotate(-90 394.47 428.00)">5</text>
<line x1="398.72" y1="420.60" x2="398.72" y2="424.30" stroke="#222" stroke-width="0.8"/>
<text x="400.97" y="428.00" font-size="6.4" text-anchor="end" fill="#333" color="#333" font-weight="normal" transform="rotate(-90 400.97 428.00)">6</text>
<line x1="405.23" y1="420.60" x2="405.23" y2="424.30" stroke="#222" stroke-width="0.8"/>
<text x="407.48" y="428.00" font-size="6.4" text-anchor="end" fill="#333" color="#333" font-weight="normal" transform="rotate(-90 407.48 428.00)">7</text>
<line x1="411.73" y1="420.60" x2="411.73" y2="424.30" stroke="#222" stroke-width="0.8"/>
<text x="413.98" y="428.00" font-size="6.4" text-anchor="end" fill="#333" color="#333" font-weight="normal" transform="rotate(-90 413.98 428.00)">8</text>
<line x1="418.24" y1="420.60" x2="418.24" y2="424.30" stroke="#222" stroke-width="0.8"/>
<text x="420.49" y="428.00" font-size="6.4" text-anchor="end" fill="#333" color="#333" font-weight="normal" transform="rotate(-90 420.49 428.00)">9</text>
<line x1="424.74" y1="420.60" x2="424.74" y2="424.30" stroke="#222" stroke-width="0.8"/>
<text x="426.99" y="428.00" font-size="6.4" text-anchor="end" fill="#333" color="#333" font-weight="normal" transform="rotate(-90 426.99 428.00)">10</text>
<line x1="431.25" y1="420.60" x2="431.25" y2="424.30" stroke="#222" stroke-width="0.8"/>
<text x="433.50" y="428.00" font-size="6.4" text-anchor="end" fill="#333" color="#333" font-weight="normal" transform="rotate(-90 433.50 428.00)">11</text>
<line x1="437.75" y1="420.60" x2="437.75" y2="424.30" stroke="#222" stroke-width="0.8"/>
<text x="440.00" y="428.00" font-size="6.4" text-anchor="end" fill="#333" color="#333" font-weight="normal" transform="rotate(-90 440.00 428.00)">12</text>
<line x1="444.25" y1="420.60" x2="444.25" y2="424.30" stroke="#222" stroke-width="0.8"/>
<text x="446.50" y="428.00" font-size="6.4" text-anchor="end" fill="#333" color="#333" font-weight="normal" transform="rotate(-90 446.50 428.00)">13</text>
<line x1="450.76" y1="420.60" x2="450.76" y2="424.30" stroke="#222" stroke-width="0.8"/>
<text x="453.01" y="428.00" font-size="6.4" text-anchor="end" fill="#333" color="#333" font-weight="normal" transform="rotate(-90 453.01 428.00)">14</text>
<line x1="457.26" y1="420.60" x2="457.26" y2="424.30" stroke="#222" stroke-width="0.8"/>
<text x="459.51" y="428.00" font-size="6.4" text-anchor="end" fill="#333" color="#333" font-weight="normal" transform="rotate(-90 459.51 428.00)">15</text>
<line x1="463.77" y1="420.60" x2="463.77" y2="424.30" stroke="#222" stroke-width="0.8"/>
<text x="466.02" y="428.00" font-size="6.4" text-anchor="end" fill="#333" color="#333" font-weight="normal" transform="rotate(-90 466.02 428.00)">16</text>
<line x1="470.27" y1="420.60" x2="470.27" y2="424.30" stroke="#222" stroke-width="0.8"/>
<text x="472.52" y="428.00" font-size="6.4" text-anchor="end" fill="#333" color="#333" font-weight="normal" transform="rotate(-90 472.52 428.00)">17</text>
<line x1="476.78" y1="420.60" x2="476.78" y2="424.30" stroke="#222" stroke-width="0.8"/>
<text x="479.03" y="428.00" font-size="6.4" text-anchor="end" fill="#333" color="#333" font-weight="normal" transform="rotate(-90 479.03 428.00)">18</text>
<line x1="483.28" y1="420.60" x2="483.28" y2="424.30" stroke="#222" stroke-width="0.8"/>
<text x="485.53" y="428.00" font-size="6.4" text-anchor="end" fill="#333" color="#333" font-weight="normal" transform="rotate(-90 485.53 428.00)">19</text>
<line x1="489.78" y1="420.60" x2="489.78" y2="424.30" stroke="#222" stroke-width="0.8"/>
<text x="492.03" y="428.00" font-size="6.4" text-anchor="end" fill="#333" color="#333" font-weight="normal" transform="rotate(-90 492.03 428.00)">20</text>
<line x1="496.29" y1="420.60" x2="496.29" y2="424.30" stroke="#222" stroke-width="0.8"/>
<text x="498.54" y="428.00" font-size="6.4" text-anchor="end" fill="#333" color="#333" font-weight="normal" transform="rotate(-90 498.54 428.00)">21</text>
<line x1="502.79" y1="420.60" x2="502.79" y2="424.30" stroke="#222" stroke-width="0.8"/>
<text x="505.04" y="428.00" font-size="6.4" text-anchor="end" fill="#333" color="#333" font-weight="normal" transform="rotate(-90 505.04 428.00)">22</text>
<line x1="509.30" y1="420.60" x2="509.30" y2="424.30" stroke="#222" stroke-width="0.8"/>
<text x="511.55" y="428.00" font-size="6.4" text-anchor="end" fill="#333" color="#333" font-weight="normal" transform="rotate(-90 511.55 428.00)">X</text>
<text x="437.80" y="447.50" font-size="8.2" text-anchor="middle" fill="#111" color="#111" font-weight="normal" textLength="36.00" lengthAdjust="spacingAndGlyphs">Chromosome</text>
<text x="336.60" y="335.10" font-size="8.6" text-anchor="middle" fill="#111" color="#111" font-weight="normal" transform="rotate(-90 336.60 335.10)" textLength="121.50" lengthAdjust="spacingAndGlyphs">Fraction of samples with chromothripsis call</text>
<rect x="0.00" y="0.00" width="520.00" height="1.10" fill="#555"/>
<rect x="0.00" y="466.90" width="520.00" height="1.10" fill="#555"/>
<rect x="0.00" y="0.00" width="1.30" height="468.00" fill="#555"/>
<rect x="518.70" y="0.00" width="1.30" height="468.00" fill="#555"/>
</svg>
</body></html>
